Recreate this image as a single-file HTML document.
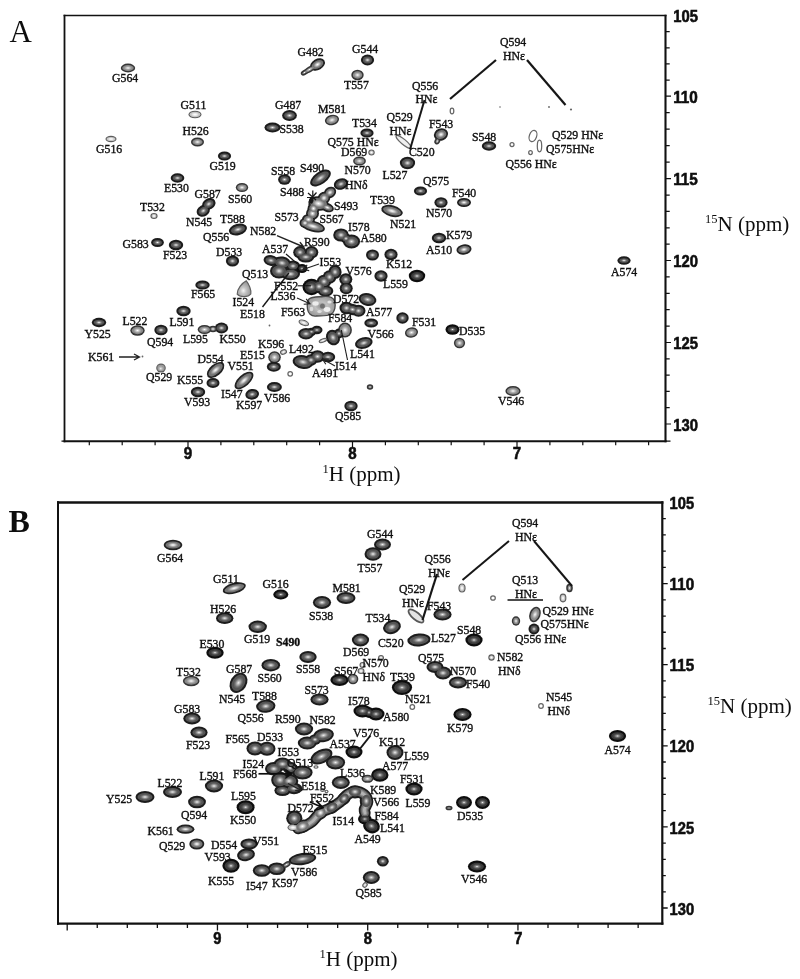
<!DOCTYPE html>
<html><head><meta charset="utf-8"><title>HSQC spectra</title>
<style>html,body{margin:0;padding:0;background:#fff}body{width:800px;height:979px;overflow:hidden;font-family:"Liberation Serif",serif}svg{display:block}</style>
</head><body>
<svg width="800" height="979" viewBox="0 0 800 979">
<defs>
<radialGradient id="gd"><stop offset="0" stop-color="#f0f0f0"/><stop offset="0.3" stop-color="#b4b4b4"/><stop offset="0.7" stop-color="#6e6e6e"/><stop offset="1" stop-color="#545454"/></radialGradient>
<radialGradient id="gh"><stop offset="0" stop-color="#ffffff"/><stop offset="0.35" stop-color="#d0d0d0"/><stop offset="0.75" stop-color="#8e8e8e"/><stop offset="1" stop-color="#747474"/></radialGradient>
<radialGradient id="gg" cx="0.45" cy="0.62" r="0.6"><stop offset="0" stop-color="#f4f4f4"/><stop offset="0.35" stop-color="#c4c4c4"/><stop offset="1" stop-color="#909090"/></radialGradient>
<radialGradient id="gD"><stop offset="0" stop-color="#f0f0f0"/><stop offset="0.3" stop-color="#8c8c8c"/><stop offset="0.7" stop-color="#505050"/><stop offset="1" stop-color="#3a3a3a"/></radialGradient>
<radialGradient id="gm"><stop offset="0" stop-color="#ffffff"/><stop offset="0.35" stop-color="#cecece"/><stop offset="0.75" stop-color="#a0a0a0"/><stop offset="1" stop-color="#8a8a8a"/></radialGradient>
<radialGradient id="gl"><stop offset="0" stop-color="#ffffff"/><stop offset="0.5" stop-color="#ececec"/><stop offset="1" stop-color="#c6c6c6"/></radialGradient>
<radialGradient id="gL" r="0.7"><stop offset="0" stop-color="#8c8c8c"/><stop offset="0.3" stop-color="#c0c0c0"/><stop offset="0.6" stop-color="#a6a6a6"/><stop offset="1" stop-color="#8c8c8c"/></radialGradient>
<filter id="bl" x="-5%" y="-5%" width="110%" height="110%"><feGaussianBlur stdDeviation="0.5"/></filter>
<filter id="bt" x="-5%" y="-5%" width="110%" height="110%"><feGaussianBlur stdDeviation="0.3"/></filter>
</defs>
<rect width="800" height="979" fill="#fff"/>
<path d="M63.6 15.5H666.55" fill="none" stroke="#111" stroke-width="1.4"/>
<path d="M64.5 14.8V442.2" fill="none" stroke="#111" stroke-width="1.8"/>
<path d="M665.5 14.8V442.2" fill="none" stroke="#111" stroke-width="2.1"/>
<path d="M63.6 441.2H666.55" fill="none" stroke="#111" stroke-width="2.0"/>
<path d="M57.0 502.5H663.4" fill="none" stroke="#111" stroke-width="2.4"/>
<path d="M58 501.3V924.75" fill="none" stroke="#111" stroke-width="2.0"/>
<path d="M662.3 501.3V924.75" fill="none" stroke="#111" stroke-width="2.2"/>
<path d="M57.0 923.6H663.4" fill="none" stroke="#111" stroke-width="2.3"/>
<path d="M665.5 31.64h4.2M665.5 47.78h4.2M665.5 63.92h4.2M665.5 80.06h4.2M665.5 96.20h5.5M665.5 112.70h4.2M665.5 129.20h4.2M665.5 145.70h4.2M665.5 162.20h4.2M665.5 178.70h5.5M665.5 195.06h4.2M665.5 211.42h4.2M665.5 227.78h4.2M665.5 244.14h4.2M665.5 260.50h5.5M665.5 276.90h4.2M665.5 293.30h4.2M665.5 309.70h4.2M665.5 326.10h4.2M665.5 342.50h5.5M665.5 358.80h4.2M665.5 375.10h4.2M665.5 391.40h4.2M665.5 407.70h4.2M665.5 424.00h5.5M89.30 441.2v4M122.20 441.2v4M155.10 441.2v4M188.00 441.2v6M220.90 441.2v4M253.80 441.2v4M286.70 441.2v4M319.60 441.2v4M352.50 441.2v6M385.40 441.2v4M418.30 441.2v4M451.20 441.2v4M484.10 441.2v4M517.00 441.2v6M549.90 441.2v4M582.80 441.2v4M615.70 441.2v4M648.60 441.2v4M64.5 441.2h-3M665.5 441.2h5" stroke="#111" stroke-width="1.2" fill="none"/>
<path d="M662.3 518.72h3.5M662.3 534.94h3.5M662.3 551.16h3.5M662.3 567.38h3.5M662.3 583.60h5.4M662.3 599.82h3.5M662.3 616.04h3.5M662.3 632.26h3.5M662.3 648.48h3.5M662.3 664.70h5.4M662.3 680.92h3.5M662.3 697.14h3.5M662.3 713.36h3.5M662.3 729.58h3.5M662.3 745.80h5.4M662.3 762.02h3.5M662.3 778.24h3.5M662.3 794.46h3.5M662.3 810.68h3.5M662.3 826.90h5.4M662.3 843.12h3.5M662.3 859.34h3.5M662.3 875.56h3.5M662.3 891.78h3.5M662.3 908.00h5.4M67.20 923.6v7M97.25 923.6v4.5M127.30 923.6v4.5M157.35 923.6v4.5M187.40 923.6v4.5M217.45 923.6v7M247.50 923.6v4.5M277.55 923.6v4.5M307.60 923.6v4.5M337.65 923.6v4.5M367.70 923.6v7M397.75 923.6v4.5M427.80 923.6v4.5M457.85 923.6v4.5M487.90 923.6v4.5M517.95 923.6v7M548.00 923.6v4.5M578.05 923.6v4.5M608.10 923.6v4.5M638.15 923.6v4.5" stroke="#111" stroke-width="1.3" fill="none"/>
<g font-family="Liberation Sans, sans-serif" font-weight="bold" fill="#0a0a0a" stroke="#0a0a0a" stroke-width="0.55" filter="url(#bt)">
<text x="673.2" y="22.1" font-size="16.7" textLength="24.7" lengthAdjust="spacingAndGlyphs">105</text>
<text x="673.2" y="102.8" font-size="16.7" textLength="24.7" lengthAdjust="spacingAndGlyphs">110</text>
<text x="673.2" y="185.3" font-size="16.7" textLength="24.7" lengthAdjust="spacingAndGlyphs">115</text>
<text x="673.2" y="267.1" font-size="16.7" textLength="24.7" lengthAdjust="spacingAndGlyphs">120</text>
<text x="673.2" y="349.1" font-size="16.7" textLength="24.7" lengthAdjust="spacingAndGlyphs">125</text>
<text x="673.2" y="430.6" font-size="16.7" textLength="24.7" lengthAdjust="spacingAndGlyphs">130</text>
<text x="183.8" y="459.2" font-size="16.8" textLength="8.4" lengthAdjust="spacingAndGlyphs">9</text>
<text x="348.3" y="459.2" font-size="16.8" textLength="8.4" lengthAdjust="spacingAndGlyphs">8</text>
<text x="512.8" y="459.2" font-size="16.8" textLength="8.4" lengthAdjust="spacingAndGlyphs">7</text>
<text x="669.6" y="509.1" font-size="16.7" textLength="24.5" lengthAdjust="spacingAndGlyphs">105</text>
<text x="669.6" y="590.2" font-size="16.7" textLength="24.5" lengthAdjust="spacingAndGlyphs">110</text>
<text x="669.6" y="671.3" font-size="16.7" textLength="24.5" lengthAdjust="spacingAndGlyphs">115</text>
<text x="669.6" y="752.4" font-size="16.7" textLength="24.5" lengthAdjust="spacingAndGlyphs">120</text>
<text x="669.6" y="833.5" font-size="16.7" textLength="24.5" lengthAdjust="spacingAndGlyphs">125</text>
<text x="669.6" y="914.6" font-size="16.7" textLength="24.5" lengthAdjust="spacingAndGlyphs">130</text>
<text x="213.3" y="944.2" font-size="17" textLength="8.2" lengthAdjust="spacingAndGlyphs">9</text>
<text x="363.8" y="944.2" font-size="17" textLength="8.2" lengthAdjust="spacingAndGlyphs">8</text>
<text x="514.3" y="944.2" font-size="17" textLength="8.2" lengthAdjust="spacingAndGlyphs">7</text>
</g>
<g font-family="Liberation Serif, serif" fill="#111" filter="url(#bt)">
<text x="9.5" y="41.5" font-size="31">A</text>
<text x="8.5" y="532" font-size="32" font-weight="bold">B</text>
<text x="322.5" y="480.5" font-size="21"><tspan font-size="12.5" dy="-8">1</tspan><tspan dy="8">H (ppm)</tspan></text>
<text x="319.5" y="966" font-size="21"><tspan font-size="12.5" dy="-8">1</tspan><tspan dy="8">H (ppm)</tspan></text>
<text x="705" y="231" font-size="21"><tspan font-size="12.5" dy="-8">15</tspan><tspan dy="8">N (ppm)</tspan></text>
<text x="707.5" y="712.5" font-size="21"><tspan font-size="12.5" dy="-8">15</tspan><tspan dy="8">N (ppm)</tspan></text>
</g>
<g filter="url(#bl)">
<ellipse cx="128" cy="68" rx="7.2" ry="4.4" fill="#363636"/>
<ellipse cx="317.5" cy="64.5" rx="8" ry="5.6" transform="rotate(-30 317.5 64.5)" fill="#202020"/>
<ellipse cx="309.5" cy="69.5" rx="6.5" ry="3" transform="rotate(-30 309.5 69.5)" fill="#363636"/>
<ellipse cx="304.5" cy="72.5" rx="4" ry="2.5" transform="rotate(-30 304.5 72.5)" fill="#363636"/>
<ellipse cx="367.5" cy="60" rx="6.6" ry="5.4" fill="#1c1c1c"/>
<ellipse cx="357.5" cy="75" rx="6.2" ry="5.2" fill="#363636"/>
<ellipse cx="195" cy="114.5" rx="6.5" ry="3.8" fill="#5c5c5c"/>
<ellipse cx="197.5" cy="142" rx="6.5" ry="4.5" fill="#363636"/>
<ellipse cx="111" cy="139" rx="5.5" ry="3.2" fill="#5c5c5c"/>
<ellipse cx="289.5" cy="115.5" rx="7.4" ry="5.4" fill="#1c1c1c"/>
<ellipse cx="272.5" cy="127.5" rx="8" ry="5" fill="#1c1c1c"/>
<ellipse cx="332" cy="120" rx="7.2" ry="5.2" transform="rotate(-15 332 120)" fill="#363636"/>
<ellipse cx="367" cy="133" rx="6.6" ry="4.6" fill="#1c1c1c"/>
<ellipse cx="371.5" cy="152.5" rx="3.2" ry="3" fill="#5c5c5c"/>
<ellipse cx="359.5" cy="161" rx="6.4" ry="4.6" fill="#363636"/>
<ellipse cx="341" cy="184" rx="7.4" ry="5.6" transform="rotate(-20 341 184)" fill="#1c1c1c"/>
<ellipse cx="224.5" cy="156" rx="6.6" ry="4.6" fill="#1c1c1c"/>
<ellipse cx="284.5" cy="179.5" rx="6.4" ry="5.2" fill="#1c1c1c"/>
<ellipse cx="320.5" cy="178" rx="11.8" ry="6.2" transform="rotate(-35 320.5 178)" fill="#1c1c1c"/>
<ellipse cx="242" cy="187.5" rx="6.2" ry="4.6" fill="#363636"/>
<ellipse cx="177.5" cy="178" rx="6.8" ry="4.7" fill="#1c1c1c"/>
<ellipse cx="208.8" cy="204" rx="7" ry="5.6" transform="rotate(-30 208.8 204)" fill="#1c1c1c"/>
<ellipse cx="203.3" cy="210.8" rx="7" ry="5.6" transform="rotate(-30 203.3 210.8)" fill="#1c1c1c"/>
<ellipse cx="238" cy="229.5" rx="9.2" ry="5.6" transform="rotate(-15 238 229.5)" fill="#1c1c1c"/>
<ellipse cx="330" cy="192.5" rx="6.5" ry="5.4" transform="rotate(-35 330 192.5)" fill="#202020"/>
<ellipse cx="324" cy="198" rx="6.5" ry="6" transform="rotate(-35 324 198)" fill="#202020"/>
<ellipse cx="318.5" cy="203.5" rx="10.3" ry="7.2" transform="rotate(10 318.5 203.5)" fill="#202020"/>
<ellipse cx="327.3" cy="207.5" rx="6.8" ry="4.4" transform="rotate(20 327.3 207.5)" fill="#202020"/>
<ellipse cx="312.5" cy="213.5" rx="6.5" ry="6.5" fill="#202020"/>
<ellipse cx="308.5" cy="219.5" rx="6.5" ry="5.5" fill="#202020"/>
<ellipse cx="312.8" cy="226.2" rx="12.4" ry="5.5" transform="rotate(15 312.8 226.2)" fill="#202020"/>
<ellipse cx="313.5" cy="208.5" rx="6" ry="6" fill="#202020"/>
<ellipse cx="305" cy="223" rx="5.5" ry="5" fill="#202020"/>
<ellipse cx="300" cy="252.3" rx="6.8" ry="6.2" fill="#1c1c1c"/>
<ellipse cx="311.5" cy="252.3" rx="6.8" ry="6.2" fill="#1c1c1c"/>
<ellipse cx="305.8" cy="257" rx="8.5" ry="5.5" fill="#1c1c1c"/>
<ellipse cx="271" cy="260.5" rx="7.5" ry="5.4" transform="rotate(10 271 260.5)" fill="#1c1c1c"/>
<ellipse cx="282" cy="263" rx="9" ry="6.5" transform="rotate(10 282 263)" fill="#1c1c1c"/>
<ellipse cx="279" cy="271" rx="9" ry="7.5" fill="#1c1c1c"/>
<ellipse cx="290.5" cy="274" rx="9.5" ry="6.2" fill="#1c1c1c"/>
<ellipse cx="293" cy="266" rx="7" ry="5.5" fill="#1c1c1c"/>
<ellipse cx="302" cy="268.5" rx="5.5" ry="4.6" fill="#0e0e0e"/>
<ellipse cx="232.5" cy="261" rx="6.6" ry="5.6" fill="#1c1c1c"/>
<ellipse cx="202.5" cy="285" rx="7.2" ry="4.6" fill="#1c1c1c"/>
<ellipse cx="183.5" cy="311" rx="7.2" ry="5.2" fill="#1c1c1c"/>
<ellipse cx="99" cy="322.5" rx="7.2" ry="4.7" fill="#1c1c1c"/>
<ellipse cx="137.5" cy="330.5" rx="7.2" ry="5.2" fill="#363636"/>
<ellipse cx="161" cy="330" rx="6.7" ry="5.2" fill="#1c1c1c"/>
<ellipse cx="161" cy="368" rx="4.8" ry="4.5" fill="#606060"/>
<ellipse cx="204.5" cy="329.5" rx="6.8" ry="4.6" fill="#363636"/>
<ellipse cx="221.5" cy="328" rx="6.7" ry="5.4" fill="#1c1c1c"/>
<ellipse cx="213" cy="329" rx="4" ry="3.2" fill="#363636"/>
<ellipse cx="157.5" cy="242.5" rx="6.4" ry="4.6" fill="#1c1c1c"/>
<ellipse cx="176" cy="245" rx="7.2" ry="5.2" fill="#1c1c1c"/>
<ellipse cx="154" cy="216" rx="3.6" ry="3" fill="#5c5c5c"/>
<ellipse cx="392" cy="211" rx="11" ry="5.6" transform="rotate(15 392 211)" fill="#202020"/>
<ellipse cx="420.5" cy="191" rx="6.6" ry="4.6" fill="#1c1c1c"/>
<ellipse cx="441" cy="202.5" rx="6.6" ry="5.2" fill="#1c1c1c"/>
<ellipse cx="464" cy="202.5" rx="7" ry="4.6" fill="#202020"/>
<ellipse cx="407.5" cy="163" rx="7.6" ry="6.2" fill="#1c1c1c"/>
<ellipse cx="439" cy="238" rx="7.2" ry="5.2" fill="#1c1c1c"/>
<ellipse cx="464" cy="249.5" rx="7.6" ry="5.2" transform="rotate(-10 464 249.5)" fill="#202020"/>
<ellipse cx="341" cy="235" rx="7.8" ry="6.6" fill="#1c1c1c"/>
<ellipse cx="351.5" cy="241.5" rx="8.6" ry="7" fill="#1c1c1c"/>
<ellipse cx="346" cy="238.5" rx="5.5" ry="5" fill="#1c1c1c"/>
<ellipse cx="372.5" cy="255" rx="6.5" ry="5.6" fill="#1c1c1c"/>
<ellipse cx="391" cy="254.5" rx="6.6" ry="5.7" fill="#1c1c1c"/>
<ellipse cx="381" cy="276" rx="6.6" ry="5.7" fill="#1c1c1c"/>
<ellipse cx="417" cy="276" rx="8.2" ry="6.2" fill="#0e0e0e"/>
<ellipse cx="345.8" cy="279.3" rx="6.5" ry="6" fill="#1c1c1c"/>
<ellipse cx="346.2" cy="288.3" rx="6.5" ry="6" fill="#1c1c1c"/>
<ellipse cx="335" cy="272" rx="6.6" ry="7" fill="#1c1c1c"/>
<ellipse cx="329.5" cy="277" rx="6.8" ry="6.8" fill="#1c1c1c"/>
<ellipse cx="324" cy="281.5" rx="7.2" ry="6.8" fill="#1c1c1c"/>
<ellipse cx="311.5" cy="287" rx="9" ry="8.2" fill="#0e0e0e"/>
<ellipse cx="325.5" cy="291" rx="7.8" ry="5.8" fill="#1c1c1c"/>
<ellipse cx="319" cy="286.5" rx="7" ry="6.5" fill="#1c1c1c"/>
<ellipse cx="367.5" cy="299.5" rx="9" ry="6.3" transform="rotate(12 367.5 299.5)" fill="#1c1c1c"/>
<ellipse cx="346.5" cy="308" rx="7" ry="6.3" fill="#1c1c1c"/>
<ellipse cx="358.5" cy="310.8" rx="7" ry="6" fill="#1c1c1c"/>
<ellipse cx="352.5" cy="309.5" rx="7" ry="5.6" transform="rotate(10 352.5 309.5)" fill="#1c1c1c"/>
<ellipse cx="371.2" cy="323" rx="6.9" ry="4.5" fill="#1c1c1c"/>
<ellipse cx="402.5" cy="318" rx="6.2" ry="5.7" fill="#1c1c1c"/>
<ellipse cx="411.5" cy="332.5" rx="6.6" ry="5.2" transform="rotate(-10 411.5 332.5)" fill="#363636"/>
<ellipse cx="452.5" cy="329.5" rx="7" ry="5.2" fill="#0e0e0e"/>
<ellipse cx="459.5" cy="343" rx="5.6" ry="5.2" fill="#363636"/>
<ellipse cx="363.8" cy="343" rx="9" ry="5.8" transform="rotate(-15 363.8 343)" fill="#1c1c1c"/>
<ellipse cx="345" cy="330" rx="6.9" ry="7.5" fill="#363636"/>
<ellipse cx="333" cy="337.5" rx="6.9" ry="8" transform="rotate(-25 333 337.5)" fill="#1c1c1c"/>
<ellipse cx="339" cy="333.5" rx="5" ry="5" fill="#1c1c1c"/>
<ellipse cx="323" cy="340.5" rx="4.5" ry="2.2" transform="rotate(-20 323 340.5)" fill="#5c5c5c"/>
<ellipse cx="306" cy="333.8" rx="7.8" ry="5.7" fill="#1c1c1c"/>
<ellipse cx="316.9" cy="330" rx="5.6" ry="4.2" fill="#1c1c1c"/>
<ellipse cx="311.5" cy="331.8" rx="5" ry="4" fill="#1c1c1c"/>
<ellipse cx="303.8" cy="322.8" rx="5.5" ry="3" transform="rotate(20 303.8 322.8)" fill="#5c5c5c"/>
<ellipse cx="274.5" cy="357.3" rx="6.3" ry="6" fill="#363636"/>
<ellipse cx="283.5" cy="352" rx="3.6" ry="2.7" transform="rotate(-20 283.5 352)" fill="#5c5c5c"/>
<ellipse cx="273.8" cy="366.8" rx="7" ry="5" fill="#1c1c1c"/>
<ellipse cx="215.6" cy="370" rx="10.4" ry="5.8" transform="rotate(-40 215.6 370)" fill="#202020"/>
<ellipse cx="213" cy="383" rx="6.5" ry="5" fill="#1c1c1c"/>
<ellipse cx="198" cy="392" rx="7.2" ry="5.2" fill="#1c1c1c"/>
<ellipse cx="244" cy="380.5" rx="11.5" ry="5.8" transform="rotate(-42 244 380.5)" fill="#202020"/>
<ellipse cx="252.2" cy="394.3" rx="6.9" ry="5.3" transform="rotate(-10 252.2 394.3)" fill="#1c1c1c"/>
<ellipse cx="274.4" cy="387" rx="7.5" ry="5.1" fill="#1c1c1c"/>
<ellipse cx="290.2" cy="373.8" rx="2.3" ry="2.3" fill="#fff" stroke="#666" stroke-width="1.25"/>
<ellipse cx="303" cy="362" rx="10.5" ry="6.8" transform="rotate(10 303 362)" fill="#1c1c1c"/>
<ellipse cx="317.5" cy="356.5" rx="7.2" ry="6.2" fill="#1c1c1c"/>
<ellipse cx="328" cy="357" rx="7.2" ry="5.2" fill="#1c1c1c"/>
<ellipse cx="311" cy="360" rx="6.5" ry="5.8" fill="#1c1c1c"/>
<ellipse cx="351" cy="406" rx="6.7" ry="5.2" fill="#1c1c1c"/>
<ellipse cx="370" cy="387" rx="3.2" ry="2.8" fill="#363636"/>
<ellipse cx="513" cy="391" rx="7.6" ry="5.1" fill="#363636"/>
<ellipse cx="624" cy="260.5" rx="6.6" ry="4.3" fill="#1c1c1c"/>
<ellipse cx="441" cy="134.5" rx="7.2" ry="6.1" transform="rotate(-20 441 134.5)" fill="#202020"/>
<ellipse cx="437.3" cy="141.2" rx="2.8" ry="3.4" transform="rotate(30 437.3 141.2)" fill="#363636"/>
<ellipse cx="489" cy="146" rx="7.2" ry="4.7" fill="#1c1c1c"/>
<ellipse cx="403.5" cy="141.8" rx="9.5" ry="2.5" transform="rotate(40 403.5 141.8)" fill="#f0f0f0" stroke="#686868" stroke-width="1.2"/>
<ellipse cx="452" cy="111" rx="1.8" ry="2.8" fill="#fff" stroke="#666" stroke-width="1.25"/>
<ellipse cx="512" cy="144.5" rx="2" ry="2" fill="#fff" stroke="#666" stroke-width="1.25"/>
<ellipse cx="533" cy="136" rx="3.6" ry="5.8" transform="rotate(20 533 136)" fill="#fff" stroke="#666" stroke-width="1.25"/>
<ellipse cx="539.5" cy="146" rx="2.2" ry="5.8" fill="#fff" stroke="#666" stroke-width="1.25"/>
<ellipse cx="530.5" cy="152.5" rx="1.8" ry="2" fill="#fff" stroke="#666" stroke-width="1.25"/>
<ellipse cx="173" cy="545" rx="9.3" ry="5.3" fill="#202020"/>
<ellipse cx="234.3" cy="588.2" rx="11.9" ry="5.3" transform="rotate(-15 234.3 588.2)" fill="#202020"/>
<ellipse cx="280.8" cy="594.5" rx="7.5" ry="5.1" fill="#0e0e0e"/>
<ellipse cx="224.7" cy="618.2" rx="8.7" ry="5.9" fill="#1c1c1c"/>
<ellipse cx="257.7" cy="626.8" rx="9.2" ry="6.2" fill="#1c1c1c"/>
<ellipse cx="322" cy="602.5" rx="9.1" ry="6.4" fill="#1c1c1c"/>
<ellipse cx="346" cy="598" rx="9.5" ry="5.9" fill="#1c1c1c"/>
<ellipse cx="215" cy="652.7" rx="8.7" ry="6" fill="#0e0e0e"/>
<ellipse cx="308" cy="657" rx="8.7" ry="6" fill="#1c1c1c"/>
<ellipse cx="270.8" cy="665.2" rx="9.3" ry="6.2" fill="#1c1c1c"/>
<ellipse cx="191.2" cy="681" rx="8.3" ry="5.2" fill="#363636"/>
<ellipse cx="238.5" cy="682.8" rx="10.8" ry="8.2" transform="rotate(-58 238.5 682.8)" fill="#1c1c1c"/>
<ellipse cx="339.5" cy="680" rx="9.1" ry="6" fill="#0e0e0e"/>
<ellipse cx="353" cy="679" rx="5.3" ry="5.2" fill="#363636"/>
<ellipse cx="319.5" cy="699.5" rx="9.1" ry="6" fill="#1c1c1c"/>
<ellipse cx="382.5" cy="544.5" rx="8.5" ry="5.9" fill="#1c1c1c"/>
<ellipse cx="373" cy="554" rx="8.5" ry="6.8" fill="#1c1c1c"/>
<ellipse cx="462" cy="588" rx="3.6" ry="4.5" fill="#5c5c5c"/>
<ellipse cx="493" cy="598" rx="2.3" ry="2.2" fill="#fff" stroke="#666" stroke-width="1.25"/>
<ellipse cx="416" cy="616" rx="9.3" ry="3.6" transform="rotate(40 416 616)" fill="#e4e4e4" stroke="#585858" stroke-width="1.7"/>
<ellipse cx="442.5" cy="614.5" rx="9.1" ry="6" fill="#1c1c1c"/>
<ellipse cx="392" cy="627" rx="9.1" ry="6.8" transform="rotate(-20 392 627)" fill="#1c1c1c"/>
<ellipse cx="360.5" cy="640" rx="8.6" ry="6.4" fill="#1c1c1c"/>
<ellipse cx="419" cy="640" rx="11.6" ry="6.4" transform="rotate(-5 419 640)" fill="#1c1c1c"/>
<ellipse cx="474" cy="640" rx="8.6" ry="6.4" fill="#0e0e0e"/>
<ellipse cx="381" cy="658" rx="3" ry="3" fill="#5c5c5c"/>
<ellipse cx="362.5" cy="665" rx="3" ry="3" fill="#5c5c5c"/>
<ellipse cx="361" cy="671" rx="3.5" ry="3" fill="#5c5c5c"/>
<ellipse cx="435" cy="667" rx="8.5" ry="5.9" fill="#1c1c1c"/>
<ellipse cx="443" cy="673" rx="8.5" ry="6.4" fill="#1c1c1c"/>
<ellipse cx="458" cy="682.5" rx="9.1" ry="5.9" fill="#1c1c1c"/>
<ellipse cx="402" cy="687.5" rx="10.1" ry="7.4" fill="#0e0e0e"/>
<ellipse cx="491.5" cy="657.5" rx="3.2" ry="3.2" fill="#5c5c5c"/>
<ellipse cx="569.5" cy="588" rx="3.3" ry="4.2" fill="#363636"/>
<ellipse cx="563" cy="598" rx="3.4" ry="4.4" fill="#5c5c5c"/>
<ellipse cx="535" cy="614.5" rx="5.5" ry="8" transform="rotate(20 535 614.5)" fill="#363636"/>
<ellipse cx="534" cy="629" rx="5.5" ry="5.4" fill="#1c1c1c"/>
<ellipse cx="516" cy="621" rx="4.2" ry="4.7" fill="#363636"/>
<ellipse cx="192" cy="718.5" rx="8.7" ry="5.9" fill="#1c1c1c"/>
<ellipse cx="199" cy="732.5" rx="8.6" ry="5.9" fill="#1c1c1c"/>
<ellipse cx="172.5" cy="792" rx="9.5" ry="5.9" fill="#1c1c1c"/>
<ellipse cx="145" cy="797" rx="9.5" ry="5.9" fill="#1c1c1c"/>
<ellipse cx="197" cy="802" rx="8.9" ry="6.3" fill="#1c1c1c"/>
<ellipse cx="185.5" cy="829.2" rx="8.9" ry="4.6" fill="#202020"/>
<ellipse cx="196.8" cy="844" rx="7.5" ry="5.5" fill="#202020"/>
<ellipse cx="265.8" cy="706.2" rx="9.7" ry="6.6" transform="rotate(-5 265.8 706.2)" fill="#1c1c1c"/>
<ellipse cx="304" cy="729" rx="9.1" ry="6.4" fill="#1c1c1c"/>
<ellipse cx="323.5" cy="735.3" rx="10.5" ry="6.9" transform="rotate(-10 323.5 735.3)" fill="#1c1c1c"/>
<ellipse cx="307.3" cy="743" rx="9.5" ry="6.5" fill="#1c1c1c"/>
<ellipse cx="315" cy="739.5" rx="6.3" ry="5.2" fill="#1c1c1c"/>
<ellipse cx="321.5" cy="756.5" rx="11.6" ry="6.9" transform="rotate(-25 321.5 756.5)" fill="#1c1c1c"/>
<ellipse cx="335.5" cy="762.5" rx="9.6" ry="6.9" fill="#1c1c1c"/>
<ellipse cx="255" cy="748.5" rx="8.5" ry="7" fill="#1c1c1c"/>
<ellipse cx="267" cy="748.7" rx="8.5" ry="7" fill="#1c1c1c"/>
<ellipse cx="273.8" cy="768.8" rx="8.8" ry="6.7" fill="#1c1c1c"/>
<ellipse cx="282.5" cy="764" rx="8.8" ry="6.4" fill="#1c1c1c"/>
<ellipse cx="290" cy="768" rx="7.3" ry="6.2" fill="#1c1c1c"/>
<ellipse cx="302.5" cy="772.5" rx="10.1" ry="6.9" fill="#1c1c1c"/>
<ellipse cx="280" cy="780" rx="8.8" ry="8.2" fill="#1c1c1c"/>
<ellipse cx="289" cy="781" rx="9.3" ry="7.2" fill="#1c1c1c"/>
<ellipse cx="282.5" cy="790.5" rx="8.1" ry="5.6" fill="#1c1c1c"/>
<ellipse cx="294" cy="788.5" rx="8.3" ry="5.7" fill="#1c1c1c"/>
<ellipse cx="214" cy="786" rx="9.1" ry="6.4" fill="#1c1c1c"/>
<ellipse cx="245.6" cy="807.2" rx="9" ry="7" fill="#0e0e0e"/>
<ellipse cx="249" cy="844" rx="8.6" ry="5.6" fill="#1c1c1c"/>
<ellipse cx="246" cy="854.8" rx="9" ry="6.3" transform="rotate(-10 246 854.8)" fill="#1c1c1c"/>
<ellipse cx="231" cy="865.8" rx="8.6" ry="7" fill="#0e0e0e"/>
<ellipse cx="302.5" cy="859" rx="13.8" ry="6" transform="rotate(-8 302.5 859)" fill="#1c1c1c"/>
<ellipse cx="261.8" cy="870.5" rx="9" ry="6.3" fill="#1c1c1c"/>
<ellipse cx="276.8" cy="868.8" rx="8.9" ry="6.3" fill="#1c1c1c"/>
<ellipse cx="286.5" cy="864.6" rx="4.5" ry="2.8" transform="rotate(-30 286.5 864.6)" fill="#363636"/>
<ellipse cx="362.5" cy="711" rx="9" ry="6.4" fill="#0e0e0e"/>
<ellipse cx="376" cy="714" rx="8.5" ry="6.4" fill="#0e0e0e"/>
<ellipse cx="369" cy="712.5" rx="5.3" ry="5.4" fill="#0e0e0e"/>
<ellipse cx="412.3" cy="707" rx="2.3" ry="2.3" fill="#fff" stroke="#666" stroke-width="1.25"/>
<ellipse cx="462.5" cy="714.5" rx="9.1" ry="6.4" fill="#0e0e0e"/>
<ellipse cx="354" cy="752" rx="8.5" ry="6.4" fill="#0e0e0e"/>
<ellipse cx="395" cy="752.5" rx="8.5" ry="7.4" fill="#1c1c1c"/>
<ellipse cx="379.8" cy="775" rx="8.7" ry="6.8" fill="#0e0e0e"/>
<ellipse cx="367.5" cy="778.8" rx="5.9" ry="4" fill="#363636"/>
<ellipse cx="340.8" cy="782.5" rx="9" ry="6.4" fill="#1c1c1c"/>
<ellipse cx="414" cy="789" rx="8.6" ry="6.4" fill="#0e0e0e"/>
<ellipse cx="294.3" cy="818.3" rx="8.1" ry="7.8" fill="#1c1c1c"/>
<ellipse cx="293" cy="827.5" rx="5.5" ry="3.5" fill="#5c5c5c"/>
<ellipse cx="364.8" cy="819" rx="6.8" ry="5.4" fill="#0e0e0e"/>
<ellipse cx="371.5" cy="826" rx="8.5" ry="7.2" transform="rotate(20 371.5 826)" fill="#0e0e0e"/>
<ellipse cx="464" cy="802.5" rx="8" ry="6.4" fill="#0e0e0e"/>
<ellipse cx="482.5" cy="802.5" rx="7.5" ry="6.4" fill="#0e0e0e"/>
<ellipse cx="449" cy="808" rx="3.5" ry="2.3" fill="#363636"/>
<ellipse cx="382.8" cy="861.2" rx="5.9" ry="5.3" fill="#1c1c1c"/>
<ellipse cx="371.3" cy="877.5" rx="8.5" ry="6.4" fill="#1c1c1c"/>
<ellipse cx="365" cy="885" rx="2.5" ry="3" transform="rotate(40 365 885)" fill="#5c5c5c"/>
<ellipse cx="477" cy="866.6" rx="9.1" ry="6" fill="#0e0e0e"/>
<ellipse cx="617.5" cy="736" rx="8.6" ry="6" fill="#0e0e0e"/>
<ellipse cx="541" cy="706" rx="2.3" ry="2.3" fill="#fff" stroke="#666" stroke-width="1.25"/>
<ellipse cx="302.5" cy="826.3" rx="8.3" ry="6.6" transform="rotate(-20 302.5 826.3)" fill="#202020"/>
<ellipse cx="320.5" cy="812.8" rx="7.3" ry="6.6" transform="rotate(-40 320.5 812.8)" fill="#202020"/>
<ellipse cx="332" cy="807.3" rx="7.8" ry="6.2" transform="rotate(-30 332 807.3)" fill="#1c1c1c"/>
<ellipse cx="355" cy="791.8" rx="8.3" ry="6.6" fill="#1c1c1c"/>
<ellipse cx="366.3" cy="801" rx="6.6" ry="8.2" fill="#1c1c1c"/>
<ellipse cx="344" cy="798.5" rx="7.3" ry="6.2" transform="rotate(-40 344 798.5)" fill="#1c1c1c"/>
<ellipse cx="316" cy="767" rx="2.6" ry="1.8" fill="#5c5c5c"/>
<ellipse cx="322.5" cy="790" rx="2.4" ry="2" fill="#5c5c5c"/>
<ellipse cx="326.5" cy="791.5" rx="2" ry="1.8" fill="#5c5c5c"/>
<path d="M298 828.5C299.0 828.2 301.6 827.7 304 826.5C306.4 825.3 309.6 823.8 312.3 821.5C315.1 819.2 317.4 814.8 320.5 812.5C323.6 810.2 327.8 809.8 331 808C334.2 806.2 337.2 804.2 340 802C342.8 799.8 345.0 796.2 347.5 794.5C350.0 792.8 352.2 791.5 355 791.5C357.8 791.5 361.9 792.8 364 794.5C366.1 796.2 367.6 799.6 367.7 802C367.8 804.4 364.9 807.2 364.5 809C364.1 810.8 364.9 812.3 365 813" fill="none" stroke="#1e1e1e" stroke-width="11.3" stroke-linecap="round" stroke-linejoin="round"/>
<path d="M298 828.5C299.0 828.2 301.6 827.7 304 826.5C306.4 825.3 309.6 823.8 312.3 821.5C315.1 819.2 317.4 814.8 320.5 812.5C323.6 810.2 327.8 809.8 331 808C334.2 806.2 337.2 804.2 340 802C342.8 799.8 345.0 796.2 347.5 794.5C350.0 792.8 352.2 791.5 355 791.5C357.8 791.5 361.9 792.8 364 794.5C366.1 796.2 367.6 799.6 367.7 802C367.8 804.4 364.9 807.2 364.5 809C364.1 810.8 364.9 812.3 365 813" fill="none" stroke="#646464" stroke-width="7.9" stroke-linecap="round" stroke-linejoin="round"/>
<path d="M298 828.5C299.0 828.2 301.6 827.7 304 826.5C306.4 825.3 309.6 823.8 312.3 821.5C315.1 819.2 317.4 814.8 320.5 812.5C323.6 810.2 327.8 809.8 331 808C334.2 806.2 337.2 804.2 340 802C342.8 799.8 345.0 796.2 347.5 794.5C350.0 792.8 352.2 791.5 355 791.5C357.8 791.5 361.9 792.8 364 794.5C366.1 796.2 367.6 799.6 367.7 802C367.8 804.4 364.9 807.2 364.5 809C364.1 810.8 364.9 812.3 365 813" fill="none" stroke="#8c8c8c" stroke-width="5.300000000000001" stroke-linecap="round" stroke-linejoin="round"/>
<path d="M298 828.5C299.0 828.2 301.6 827.7 304 826.5C306.4 825.3 309.6 823.8 312.3 821.5C315.1 819.2 317.4 814.8 320.5 812.5C323.6 810.2 327.8 809.8 331 808C334.2 806.2 337.2 804.2 340 802C342.8 799.8 345.0 796.2 347.5 794.5C350.0 792.8 352.2 791.5 355 791.5C357.8 791.5 361.9 792.8 364 794.5C366.1 796.2 367.6 799.6 367.7 802C367.8 804.4 364.9 807.2 364.5 809C364.1 810.8 364.9 812.3 365 813" fill="none" stroke="#b4b4b4" stroke-width="2.8000000000000007" stroke-linecap="round" stroke-linejoin="round"/>
<ellipse cx="128" cy="68" rx="5.70" ry="2.90" fill="#8a8a8a"/>
<ellipse cx="317.5" cy="64.5" rx="6.25" ry="3.85" transform="rotate(-30 317.5 64.5)" fill="#747474"/>
<ellipse cx="309.5" cy="69.5" rx="5.00" ry="1.50" transform="rotate(-30 309.5 69.5)" fill="#8a8a8a"/>
<ellipse cx="304.5" cy="72.5" rx="2.50" ry="1.00" transform="rotate(-30 304.5 72.5)" fill="#8a8a8a"/>
<ellipse cx="367.5" cy="60" rx="4.60" ry="3.40" fill="#545454"/>
<ellipse cx="357.5" cy="75" rx="4.70" ry="3.70" fill="#8a8a8a"/>
<ellipse cx="195" cy="114.5" rx="5.40" ry="2.70" fill="#c6c6c6"/>
<ellipse cx="197.5" cy="142" rx="5.00" ry="3.00" fill="#8a8a8a"/>
<ellipse cx="111" cy="139" rx="4.40" ry="2.10" fill="#c6c6c6"/>
<ellipse cx="289.5" cy="115.5" rx="5.40" ry="3.40" fill="#545454"/>
<ellipse cx="272.5" cy="127.5" rx="6.00" ry="3.00" fill="#545454"/>
<ellipse cx="332" cy="120" rx="5.70" ry="3.70" transform="rotate(-15 332 120)" fill="#8a8a8a"/>
<ellipse cx="367" cy="133" rx="4.60" ry="2.60" fill="#545454"/>
<ellipse cx="371.5" cy="152.5" rx="2.10" ry="1.90" fill="#c6c6c6"/>
<ellipse cx="359.5" cy="161" rx="4.90" ry="3.10" fill="#8a8a8a"/>
<ellipse cx="341" cy="184" rx="5.40" ry="3.60" transform="rotate(-20 341 184)" fill="#545454"/>
<ellipse cx="224.5" cy="156" rx="4.60" ry="2.60" fill="#545454"/>
<ellipse cx="284.5" cy="179.5" rx="4.40" ry="3.20" fill="#545454"/>
<ellipse cx="320.5" cy="178" rx="9.80" ry="4.20" transform="rotate(-35 320.5 178)" fill="#545454"/>
<ellipse cx="242" cy="187.5" rx="4.70" ry="3.10" fill="#8a8a8a"/>
<ellipse cx="177.5" cy="178" rx="4.80" ry="2.70" fill="#545454"/>
<ellipse cx="208.8" cy="204" rx="5.00" ry="3.60" transform="rotate(-30 208.8 204)" fill="#545454"/>
<ellipse cx="203.3" cy="210.8" rx="5.00" ry="3.60" transform="rotate(-30 203.3 210.8)" fill="#545454"/>
<ellipse cx="238" cy="229.5" rx="7.20" ry="3.60" transform="rotate(-15 238 229.5)" fill="#545454"/>
<ellipse cx="330" cy="192.5" rx="4.75" ry="3.65" transform="rotate(-35 330 192.5)" fill="#747474"/>
<ellipse cx="324" cy="198" rx="4.75" ry="4.25" transform="rotate(-35 324 198)" fill="#747474"/>
<ellipse cx="318.5" cy="203.5" rx="8.55" ry="5.45" transform="rotate(10 318.5 203.5)" fill="#747474"/>
<ellipse cx="327.3" cy="207.5" rx="5.05" ry="2.65" transform="rotate(20 327.3 207.5)" fill="#747474"/>
<ellipse cx="312.5" cy="213.5" rx="4.75" ry="4.75" fill="#747474"/>
<ellipse cx="308.5" cy="219.5" rx="4.75" ry="3.75" fill="#747474"/>
<ellipse cx="312.8" cy="226.2" rx="10.65" ry="3.75" transform="rotate(15 312.8 226.2)" fill="#747474"/>
<ellipse cx="313.5" cy="208.5" rx="4.25" ry="4.25" fill="#747474"/>
<ellipse cx="305" cy="223" rx="3.75" ry="3.25" fill="#747474"/>
<ellipse cx="300" cy="252.3" rx="4.80" ry="4.20" fill="#545454"/>
<ellipse cx="311.5" cy="252.3" rx="4.80" ry="4.20" fill="#545454"/>
<ellipse cx="305.8" cy="257" rx="6.50" ry="3.50" fill="#545454"/>
<ellipse cx="271" cy="260.5" rx="5.50" ry="3.40" transform="rotate(10 271 260.5)" fill="#545454"/>
<ellipse cx="282" cy="263" rx="7.00" ry="4.50" transform="rotate(10 282 263)" fill="#545454"/>
<ellipse cx="279" cy="271" rx="7.00" ry="5.50" fill="#545454"/>
<ellipse cx="290.5" cy="274" rx="7.50" ry="4.20" fill="#545454"/>
<ellipse cx="293" cy="266" rx="5.00" ry="3.50" fill="#545454"/>
<ellipse cx="302" cy="268.5" rx="3.30" ry="2.40" fill="#3a3a3a"/>
<ellipse cx="232.5" cy="261" rx="4.60" ry="3.60" fill="#545454"/>
<ellipse cx="202.5" cy="285" rx="5.20" ry="2.60" fill="#545454"/>
<ellipse cx="183.5" cy="311" rx="5.20" ry="3.20" fill="#545454"/>
<ellipse cx="99" cy="322.5" rx="5.20" ry="2.70" fill="#545454"/>
<ellipse cx="137.5" cy="330.5" rx="5.70" ry="3.70" fill="#8a8a8a"/>
<ellipse cx="161" cy="330" rx="4.70" ry="3.20" fill="#545454"/>
<ellipse cx="161" cy="368" rx="3.60" ry="3.30" fill="#a0a0a0"/>
<ellipse cx="204.5" cy="329.5" rx="5.30" ry="3.10" fill="#8a8a8a"/>
<ellipse cx="221.5" cy="328" rx="4.70" ry="3.40" fill="#545454"/>
<ellipse cx="213" cy="329" rx="2.50" ry="1.70" fill="#8a8a8a"/>
<ellipse cx="157.5" cy="242.5" rx="4.40" ry="2.60" fill="#545454"/>
<ellipse cx="176" cy="245" rx="5.20" ry="3.20" fill="#545454"/>
<ellipse cx="154" cy="216" rx="2.50" ry="1.90" fill="#c6c6c6"/>
<ellipse cx="392" cy="211" rx="9.25" ry="3.85" transform="rotate(15 392 211)" fill="#747474"/>
<ellipse cx="420.5" cy="191" rx="4.60" ry="2.60" fill="#545454"/>
<ellipse cx="441" cy="202.5" rx="4.60" ry="3.20" fill="#545454"/>
<ellipse cx="464" cy="202.5" rx="5.25" ry="2.85" fill="#747474"/>
<ellipse cx="407.5" cy="163" rx="5.60" ry="4.20" fill="#545454"/>
<ellipse cx="439" cy="238" rx="5.20" ry="3.20" fill="#545454"/>
<ellipse cx="464" cy="249.5" rx="5.85" ry="3.45" transform="rotate(-10 464 249.5)" fill="#747474"/>
<ellipse cx="341" cy="235" rx="5.80" ry="4.60" fill="#545454"/>
<ellipse cx="351.5" cy="241.5" rx="6.60" ry="5.00" fill="#545454"/>
<ellipse cx="346" cy="238.5" rx="3.50" ry="3.00" fill="#545454"/>
<ellipse cx="372.5" cy="255" rx="4.50" ry="3.60" fill="#545454"/>
<ellipse cx="391" cy="254.5" rx="4.60" ry="3.70" fill="#545454"/>
<ellipse cx="381" cy="276" rx="4.60" ry="3.70" fill="#545454"/>
<ellipse cx="417" cy="276" rx="6.00" ry="4.00" fill="#3a3a3a"/>
<ellipse cx="345.8" cy="279.3" rx="4.50" ry="4.00" fill="#545454"/>
<ellipse cx="346.2" cy="288.3" rx="4.50" ry="4.00" fill="#545454"/>
<ellipse cx="335" cy="272" rx="4.60" ry="5.00" fill="#545454"/>
<ellipse cx="329.5" cy="277" rx="4.80" ry="4.80" fill="#545454"/>
<ellipse cx="324" cy="281.5" rx="5.20" ry="4.80" fill="#545454"/>
<ellipse cx="311.5" cy="287" rx="6.80" ry="6.00" fill="#3a3a3a"/>
<ellipse cx="325.5" cy="291" rx="5.80" ry="3.80" fill="#545454"/>
<ellipse cx="319" cy="286.5" rx="5.00" ry="4.50" fill="#545454"/>
<ellipse cx="367.5" cy="299.5" rx="7.00" ry="4.30" transform="rotate(12 367.5 299.5)" fill="#545454"/>
<ellipse cx="346.5" cy="308" rx="5.00" ry="4.30" fill="#545454"/>
<ellipse cx="358.5" cy="310.8" rx="5.00" ry="4.00" fill="#545454"/>
<ellipse cx="352.5" cy="309.5" rx="5.00" ry="3.60" transform="rotate(10 352.5 309.5)" fill="#545454"/>
<ellipse cx="371.2" cy="323" rx="4.90" ry="2.50" fill="#545454"/>
<ellipse cx="402.5" cy="318" rx="4.20" ry="3.70" fill="#545454"/>
<ellipse cx="411.5" cy="332.5" rx="5.10" ry="3.70" transform="rotate(-10 411.5 332.5)" fill="#8a8a8a"/>
<ellipse cx="452.5" cy="329.5" rx="4.80" ry="3.00" fill="#3a3a3a"/>
<ellipse cx="459.5" cy="343" rx="4.10" ry="3.70" fill="#8a8a8a"/>
<ellipse cx="363.8" cy="343" rx="7.00" ry="3.80" transform="rotate(-15 363.8 343)" fill="#545454"/>
<ellipse cx="345" cy="330" rx="5.40" ry="6.00" fill="#8a8a8a"/>
<ellipse cx="333" cy="337.5" rx="4.90" ry="6.00" transform="rotate(-25 333 337.5)" fill="#545454"/>
<ellipse cx="339" cy="333.5" rx="3.00" ry="3.00" fill="#545454"/>
<ellipse cx="323" cy="340.5" rx="3.40" ry="1.10" transform="rotate(-20 323 340.5)" fill="#c6c6c6"/>
<ellipse cx="306" cy="333.8" rx="5.80" ry="3.70" fill="#545454"/>
<ellipse cx="316.9" cy="330" rx="3.60" ry="2.20" fill="#545454"/>
<ellipse cx="311.5" cy="331.8" rx="3.00" ry="2.00" fill="#545454"/>
<ellipse cx="303.8" cy="322.8" rx="4.40" ry="1.90" transform="rotate(20 303.8 322.8)" fill="#c6c6c6"/>
<ellipse cx="274.5" cy="357.3" rx="4.80" ry="4.50" fill="#8a8a8a"/>
<ellipse cx="283.5" cy="352" rx="2.50" ry="1.60" transform="rotate(-20 283.5 352)" fill="#c6c6c6"/>
<ellipse cx="273.8" cy="366.8" rx="5.00" ry="3.00" fill="#545454"/>
<ellipse cx="215.6" cy="370" rx="8.65" ry="4.05" transform="rotate(-40 215.6 370)" fill="#747474"/>
<ellipse cx="213" cy="383" rx="4.50" ry="3.00" fill="#545454"/>
<ellipse cx="198" cy="392" rx="5.20" ry="3.20" fill="#545454"/>
<ellipse cx="244" cy="380.5" rx="9.75" ry="4.05" transform="rotate(-42 244 380.5)" fill="#747474"/>
<ellipse cx="252.2" cy="394.3" rx="4.90" ry="3.30" transform="rotate(-10 252.2 394.3)" fill="#545454"/>
<ellipse cx="274.4" cy="387" rx="5.50" ry="3.10" fill="#545454"/>

<ellipse cx="303" cy="362" rx="8.50" ry="4.80" transform="rotate(10 303 362)" fill="#545454"/>
<ellipse cx="317.5" cy="356.5" rx="5.20" ry="4.20" fill="#545454"/>
<ellipse cx="328" cy="357" rx="5.20" ry="3.20" fill="#545454"/>
<ellipse cx="311" cy="360" rx="4.50" ry="3.80" fill="#545454"/>
<ellipse cx="351" cy="406" rx="4.70" ry="3.20" fill="#545454"/>
<ellipse cx="370" cy="387" rx="1.70" ry="1.30" fill="#8a8a8a"/>
<ellipse cx="513" cy="391" rx="6.10" ry="3.60" fill="#8a8a8a"/>
<ellipse cx="624" cy="260.5" rx="4.60" ry="2.30" fill="#545454"/>
<ellipse cx="441" cy="134.5" rx="5.45" ry="4.35" transform="rotate(-20 441 134.5)" fill="#747474"/>
<ellipse cx="437.3" cy="141.2" rx="1.30" ry="1.90" transform="rotate(30 437.3 141.2)" fill="#8a8a8a"/>
<ellipse cx="489" cy="146" rx="5.20" ry="2.70" fill="#545454"/>






<ellipse cx="173" cy="545" rx="7.55" ry="3.55" fill="#747474"/>
<ellipse cx="234.3" cy="588.2" rx="10.15" ry="3.55" transform="rotate(-15 234.3 588.2)" fill="#747474"/>
<ellipse cx="280.8" cy="594.5" rx="5.30" ry="2.90" fill="#3a3a3a"/>
<ellipse cx="224.7" cy="618.2" rx="6.70" ry="3.90" fill="#545454"/>
<ellipse cx="257.7" cy="626.8" rx="7.20" ry="4.20" fill="#545454"/>
<ellipse cx="322" cy="602.5" rx="7.10" ry="4.40" fill="#545454"/>
<ellipse cx="346" cy="598" rx="7.50" ry="3.90" fill="#545454"/>
<ellipse cx="215" cy="652.7" rx="6.50" ry="3.80" fill="#3a3a3a"/>
<ellipse cx="308" cy="657" rx="6.70" ry="4.00" fill="#545454"/>
<ellipse cx="270.8" cy="665.2" rx="7.30" ry="4.20" fill="#545454"/>
<ellipse cx="191.2" cy="681" rx="6.80" ry="3.70" fill="#8a8a8a"/>
<ellipse cx="238.5" cy="682.8" rx="8.80" ry="6.20" transform="rotate(-58 238.5 682.8)" fill="#545454"/>
<ellipse cx="339.5" cy="680" rx="6.90" ry="3.80" fill="#3a3a3a"/>
<ellipse cx="353" cy="679" rx="3.80" ry="3.70" fill="#8a8a8a"/>
<ellipse cx="319.5" cy="699.5" rx="7.10" ry="4.00" fill="#545454"/>
<ellipse cx="382.5" cy="544.5" rx="6.50" ry="3.90" fill="#545454"/>
<ellipse cx="373" cy="554" rx="6.50" ry="4.80" fill="#545454"/>
<ellipse cx="462" cy="588" rx="2.50" ry="3.40" fill="#c6c6c6"/>


<ellipse cx="442.5" cy="614.5" rx="7.10" ry="4.00" fill="#545454"/>
<ellipse cx="392" cy="627" rx="7.10" ry="4.80" transform="rotate(-20 392 627)" fill="#545454"/>
<ellipse cx="360.5" cy="640" rx="6.60" ry="4.40" fill="#545454"/>
<ellipse cx="419" cy="640" rx="9.60" ry="4.40" transform="rotate(-5 419 640)" fill="#545454"/>
<ellipse cx="474" cy="640" rx="6.40" ry="4.20" fill="#3a3a3a"/>
<ellipse cx="381" cy="658" rx="1.90" ry="1.90" fill="#c6c6c6"/>
<ellipse cx="362.5" cy="665" rx="1.90" ry="1.90" fill="#c6c6c6"/>
<ellipse cx="361" cy="671" rx="2.40" ry="1.90" fill="#c6c6c6"/>
<ellipse cx="435" cy="667" rx="6.50" ry="3.90" fill="#545454"/>
<ellipse cx="443" cy="673" rx="6.50" ry="4.40" fill="#545454"/>
<ellipse cx="458" cy="682.5" rx="7.10" ry="3.90" fill="#545454"/>
<ellipse cx="402" cy="687.5" rx="7.90" ry="5.20" fill="#3a3a3a"/>
<ellipse cx="491.5" cy="657.5" rx="2.10" ry="2.10" fill="#c6c6c6"/>
<ellipse cx="569.5" cy="588" rx="1.80" ry="2.70" fill="#8a8a8a"/>
<ellipse cx="563" cy="598" rx="2.30" ry="3.30" fill="#c6c6c6"/>
<ellipse cx="535" cy="614.5" rx="4.00" ry="6.50" transform="rotate(20 535 614.5)" fill="#8a8a8a"/>
<ellipse cx="534" cy="629" rx="3.50" ry="3.40" fill="#545454"/>
<ellipse cx="516" cy="621" rx="2.70" ry="3.20" fill="#8a8a8a"/>
<ellipse cx="192" cy="718.5" rx="6.70" ry="3.90" fill="#545454"/>
<ellipse cx="199" cy="732.5" rx="6.60" ry="3.90" fill="#545454"/>
<ellipse cx="172.5" cy="792" rx="7.50" ry="3.90" fill="#545454"/>
<ellipse cx="145" cy="797" rx="7.50" ry="3.90" fill="#545454"/>
<ellipse cx="197" cy="802" rx="6.90" ry="4.30" fill="#545454"/>
<ellipse cx="185.5" cy="829.2" rx="7.15" ry="2.85" fill="#747474"/>
<ellipse cx="196.8" cy="844" rx="5.75" ry="3.75" fill="#747474"/>
<ellipse cx="265.8" cy="706.2" rx="7.70" ry="4.60" transform="rotate(-5 265.8 706.2)" fill="#545454"/>
<ellipse cx="304" cy="729" rx="7.10" ry="4.40" fill="#545454"/>
<ellipse cx="323.5" cy="735.3" rx="8.50" ry="4.90" transform="rotate(-10 323.5 735.3)" fill="#545454"/>
<ellipse cx="307.3" cy="743" rx="7.50" ry="4.50" fill="#545454"/>
<ellipse cx="315" cy="739.5" rx="4.30" ry="3.20" fill="#545454"/>
<ellipse cx="321.5" cy="756.5" rx="9.60" ry="4.90" transform="rotate(-25 321.5 756.5)" fill="#545454"/>
<ellipse cx="335.5" cy="762.5" rx="7.60" ry="4.90" fill="#545454"/>
<ellipse cx="255" cy="748.5" rx="6.50" ry="5.00" fill="#545454"/>
<ellipse cx="267" cy="748.7" rx="6.50" ry="5.00" fill="#545454"/>
<ellipse cx="273.8" cy="768.8" rx="6.80" ry="4.70" fill="#545454"/>
<ellipse cx="282.5" cy="764" rx="6.80" ry="4.40" fill="#545454"/>
<ellipse cx="290" cy="768" rx="5.30" ry="4.20" fill="#545454"/>
<ellipse cx="302.5" cy="772.5" rx="8.10" ry="4.90" fill="#545454"/>
<ellipse cx="280" cy="780" rx="6.80" ry="6.20" fill="#545454"/>
<ellipse cx="289" cy="781" rx="7.30" ry="5.20" fill="#545454"/>
<ellipse cx="282.5" cy="790.5" rx="6.10" ry="3.60" fill="#545454"/>
<ellipse cx="294" cy="788.5" rx="6.30" ry="3.70" fill="#545454"/>
<ellipse cx="214" cy="786" rx="7.10" ry="4.40" fill="#545454"/>
<ellipse cx="245.6" cy="807.2" rx="6.80" ry="4.80" fill="#3a3a3a"/>
<ellipse cx="249" cy="844" rx="6.60" ry="3.60" fill="#545454"/>
<ellipse cx="246" cy="854.8" rx="7.00" ry="4.30" transform="rotate(-10 246 854.8)" fill="#545454"/>
<ellipse cx="231" cy="865.8" rx="6.40" ry="4.80" fill="#3a3a3a"/>
<ellipse cx="302.5" cy="859" rx="11.80" ry="4.00" transform="rotate(-8 302.5 859)" fill="#545454"/>
<ellipse cx="261.8" cy="870.5" rx="7.00" ry="4.30" fill="#545454"/>
<ellipse cx="276.8" cy="868.8" rx="6.90" ry="4.30" fill="#545454"/>
<ellipse cx="286.5" cy="864.6" rx="3.00" ry="1.30" transform="rotate(-30 286.5 864.6)" fill="#8a8a8a"/>
<ellipse cx="362.5" cy="711" rx="6.80" ry="4.20" fill="#3a3a3a"/>
<ellipse cx="376" cy="714" rx="6.30" ry="4.20" fill="#3a3a3a"/>
<ellipse cx="369" cy="712.5" rx="3.10" ry="3.20" fill="#3a3a3a"/>

<ellipse cx="462.5" cy="714.5" rx="6.90" ry="4.20" fill="#3a3a3a"/>
<ellipse cx="354" cy="752" rx="6.30" ry="4.20" fill="#3a3a3a"/>
<ellipse cx="395" cy="752.5" rx="6.50" ry="5.40" fill="#545454"/>
<ellipse cx="379.8" cy="775" rx="6.50" ry="4.60" fill="#3a3a3a"/>
<ellipse cx="367.5" cy="778.8" rx="4.40" ry="2.50" fill="#8a8a8a"/>
<ellipse cx="340.8" cy="782.5" rx="7.00" ry="4.40" fill="#545454"/>
<ellipse cx="414" cy="789" rx="6.40" ry="4.20" fill="#3a3a3a"/>
<ellipse cx="294.3" cy="818.3" rx="6.10" ry="5.80" fill="#545454"/>
<ellipse cx="293" cy="827.5" rx="4.40" ry="2.40" fill="#c6c6c6"/>
<ellipse cx="364.8" cy="819" rx="4.60" ry="3.20" fill="#3a3a3a"/>
<ellipse cx="371.5" cy="826" rx="6.30" ry="5.00" transform="rotate(20 371.5 826)" fill="#3a3a3a"/>
<ellipse cx="464" cy="802.5" rx="5.80" ry="4.20" fill="#3a3a3a"/>
<ellipse cx="482.5" cy="802.5" rx="5.30" ry="4.20" fill="#3a3a3a"/>
<ellipse cx="449" cy="808" rx="2.00" ry="0.80" fill="#8a8a8a"/>
<ellipse cx="382.8" cy="861.2" rx="3.90" ry="3.30" fill="#545454"/>
<ellipse cx="371.3" cy="877.5" rx="6.50" ry="4.40" fill="#545454"/>
<ellipse cx="365" cy="885" rx="1.40" ry="1.90" transform="rotate(40 365 885)" fill="#c6c6c6"/>
<ellipse cx="477" cy="866.6" rx="6.90" ry="3.80" fill="#3a3a3a"/>
<ellipse cx="617.5" cy="736" rx="6.40" ry="3.80" fill="#3a3a3a"/>

<ellipse cx="302.5" cy="826.3" rx="6.55" ry="4.85" transform="rotate(-20 302.5 826.3)" fill="#747474"/>
<ellipse cx="320.5" cy="812.8" rx="5.55" ry="4.85" transform="rotate(-40 320.5 812.8)" fill="#747474"/>
<ellipse cx="332" cy="807.3" rx="5.80" ry="4.20" transform="rotate(-30 332 807.3)" fill="#545454"/>
<ellipse cx="355" cy="791.8" rx="6.30" ry="4.60" fill="#545454"/>
<ellipse cx="366.3" cy="801" rx="4.60" ry="6.20" fill="#545454"/>
<ellipse cx="344" cy="798.5" rx="5.30" ry="4.20" transform="rotate(-40 344 798.5)" fill="#545454"/>
<ellipse cx="316" cy="767" rx="1.50" ry="0.70" fill="#c6c6c6"/>
<ellipse cx="322.5" cy="790" rx="1.30" ry="0.90" fill="#c6c6c6"/>
<ellipse cx="326.5" cy="791.5" rx="0.90" ry="0.70" fill="#c6c6c6"/>
<ellipse cx="128" cy="68" rx="4.22" ry="2.15" fill="url(#gm)"/>
<ellipse cx="317.5" cy="64.5" rx="4.62" ry="2.85" transform="rotate(-30 317.5 64.5)" fill="url(#gh)"/>
<ellipse cx="309.5" cy="69.5" rx="3.70" ry="1.11" transform="rotate(-30 309.5 69.5)" fill="url(#gm)"/>
<ellipse cx="304.5" cy="72.5" rx="1.85" ry="0.74" transform="rotate(-30 304.5 72.5)" fill="url(#gm)"/>
<ellipse cx="367.5" cy="60" rx="3.40" ry="2.52" fill="url(#gd)"/>
<ellipse cx="357.5" cy="75" rx="3.48" ry="2.74" fill="url(#gm)"/>
<ellipse cx="195" cy="114.5" rx="4.00" ry="2.00" fill="url(#gl)"/>
<ellipse cx="197.5" cy="142" rx="3.70" ry="2.22" fill="url(#gm)"/>
<ellipse cx="111" cy="139" rx="3.26" ry="1.55" fill="url(#gl)"/>
<ellipse cx="289.5" cy="115.5" rx="4.00" ry="2.52" fill="url(#gd)"/>
<ellipse cx="272.5" cy="127.5" rx="4.44" ry="2.22" fill="url(#gd)"/>
<ellipse cx="332" cy="120" rx="4.22" ry="2.74" transform="rotate(-15 332 120)" fill="url(#gm)"/>
<ellipse cx="367" cy="133" rx="3.40" ry="1.92" fill="url(#gd)"/>
<ellipse cx="371.5" cy="152.5" rx="1.55" ry="1.41" fill="url(#gl)"/>
<ellipse cx="359.5" cy="161" rx="3.63" ry="2.29" fill="url(#gm)"/>
<ellipse cx="341" cy="184" rx="4.00" ry="2.66" transform="rotate(-20 341 184)" fill="url(#gd)"/>
<ellipse cx="224.5" cy="156" rx="3.40" ry="1.92" fill="url(#gd)"/>
<ellipse cx="284.5" cy="179.5" rx="3.26" ry="2.37" fill="url(#gd)"/>
<ellipse cx="320.5" cy="178" rx="7.25" ry="3.11" transform="rotate(-35 320.5 178)" fill="url(#gd)"/>
<ellipse cx="242" cy="187.5" rx="3.48" ry="2.29" fill="url(#gm)"/>
<ellipse cx="177.5" cy="178" rx="3.55" ry="2.00" fill="url(#gd)"/>
<ellipse cx="208.8" cy="204" rx="3.70" ry="2.66" transform="rotate(-30 208.8 204)" fill="url(#gd)"/>
<ellipse cx="203.3" cy="210.8" rx="3.70" ry="2.66" transform="rotate(-30 203.3 210.8)" fill="url(#gd)"/>
<ellipse cx="238" cy="229.5" rx="5.33" ry="2.66" transform="rotate(-15 238 229.5)" fill="url(#gd)"/>
<ellipse cx="330" cy="192.5" rx="3.52" ry="2.70" transform="rotate(-35 330 192.5)" fill="url(#gh)"/>
<ellipse cx="324" cy="198" rx="3.52" ry="3.15" transform="rotate(-35 324 198)" fill="url(#gh)"/>
<ellipse cx="318.5" cy="203.5" rx="6.33" ry="4.03" transform="rotate(10 318.5 203.5)" fill="url(#gh)"/>
<ellipse cx="327.3" cy="207.5" rx="3.74" ry="1.96" transform="rotate(20 327.3 207.5)" fill="url(#gh)"/>
<ellipse cx="312.5" cy="213.5" rx="3.52" ry="3.52" fill="url(#gh)"/>
<ellipse cx="308.5" cy="219.5" rx="3.52" ry="2.77" fill="url(#gh)"/>
<ellipse cx="312.8" cy="226.2" rx="7.88" ry="2.77" transform="rotate(15 312.8 226.2)" fill="url(#gh)"/>
<ellipse cx="313.5" cy="208.5" rx="3.15" ry="3.15" fill="url(#gh)"/>
<ellipse cx="305" cy="223" rx="2.77" ry="2.40" fill="url(#gh)"/>
<ellipse cx="300" cy="252.3" rx="3.55" ry="3.11" fill="url(#gd)"/>
<ellipse cx="311.5" cy="252.3" rx="3.55" ry="3.11" fill="url(#gd)"/>
<ellipse cx="305.8" cy="257" rx="4.81" ry="2.59" fill="url(#gd)"/>
<ellipse cx="271" cy="260.5" rx="4.07" ry="2.52" transform="rotate(10 271 260.5)" fill="url(#gd)"/>
<ellipse cx="282" cy="263" rx="5.18" ry="3.33" transform="rotate(10 282 263)" fill="url(#gd)"/>
<ellipse cx="279" cy="271" rx="5.18" ry="4.07" fill="url(#gd)"/>
<ellipse cx="290.5" cy="274" rx="5.55" ry="3.11" fill="url(#gd)"/>
<ellipse cx="293" cy="266" rx="3.70" ry="2.59" fill="url(#gd)"/>
<ellipse cx="302" cy="268.5" rx="2.44" ry="1.78" fill="url(#gD)"/>
<ellipse cx="232.5" cy="261" rx="3.40" ry="2.66" fill="url(#gd)"/>
<ellipse cx="202.5" cy="285" rx="3.85" ry="1.92" fill="url(#gd)"/>
<ellipse cx="183.5" cy="311" rx="3.85" ry="2.37" fill="url(#gd)"/>
<ellipse cx="99" cy="322.5" rx="3.85" ry="2.00" fill="url(#gd)"/>
<ellipse cx="137.5" cy="330.5" rx="4.22" ry="2.74" fill="url(#gm)"/>
<ellipse cx="161" cy="330" rx="3.48" ry="2.37" fill="url(#gd)"/>
<ellipse cx="161" cy="368" rx="2.66" ry="2.44" fill="url(#gg)"/>
<ellipse cx="204.5" cy="329.5" rx="3.92" ry="2.29" fill="url(#gm)"/>
<ellipse cx="221.5" cy="328" rx="3.48" ry="2.52" fill="url(#gd)"/>
<ellipse cx="213" cy="329" rx="1.85" ry="1.26" fill="url(#gm)"/>
<ellipse cx="157.5" cy="242.5" rx="3.26" ry="1.92" fill="url(#gd)"/>
<ellipse cx="176" cy="245" rx="3.85" ry="2.37" fill="url(#gd)"/>
<ellipse cx="154" cy="216" rx="1.85" ry="1.41" fill="url(#gl)"/>
<ellipse cx="392" cy="211" rx="6.84" ry="2.85" transform="rotate(15 392 211)" fill="url(#gh)"/>
<ellipse cx="420.5" cy="191" rx="3.40" ry="1.92" fill="url(#gd)"/>
<ellipse cx="441" cy="202.5" rx="3.40" ry="2.37" fill="url(#gd)"/>
<ellipse cx="464" cy="202.5" rx="3.88" ry="2.11" fill="url(#gh)"/>
<ellipse cx="407.5" cy="163" rx="4.14" ry="3.11" fill="url(#gd)"/>
<ellipse cx="439" cy="238" rx="3.85" ry="2.37" fill="url(#gd)"/>
<ellipse cx="464" cy="249.5" rx="4.33" ry="2.55" transform="rotate(-10 464 249.5)" fill="url(#gh)"/>
<ellipse cx="341" cy="235" rx="4.29" ry="3.40" fill="url(#gd)"/>
<ellipse cx="351.5" cy="241.5" rx="4.88" ry="3.70" fill="url(#gd)"/>
<ellipse cx="346" cy="238.5" rx="2.59" ry="2.22" fill="url(#gd)"/>
<ellipse cx="372.5" cy="255" rx="3.33" ry="2.66" fill="url(#gd)"/>
<ellipse cx="391" cy="254.5" rx="3.40" ry="2.74" fill="url(#gd)"/>
<ellipse cx="381" cy="276" rx="3.40" ry="2.74" fill="url(#gd)"/>
<ellipse cx="417" cy="276" rx="4.44" ry="2.96" fill="url(#gD)"/>
<ellipse cx="345.8" cy="279.3" rx="3.33" ry="2.96" fill="url(#gd)"/>
<ellipse cx="346.2" cy="288.3" rx="3.33" ry="2.96" fill="url(#gd)"/>
<ellipse cx="335" cy="272" rx="3.40" ry="3.70" fill="url(#gd)"/>
<ellipse cx="329.5" cy="277" rx="3.55" ry="3.55" fill="url(#gd)"/>
<ellipse cx="324" cy="281.5" rx="3.85" ry="3.55" fill="url(#gd)"/>
<ellipse cx="311.5" cy="287" rx="5.03" ry="4.44" fill="url(#gD)"/>
<ellipse cx="325.5" cy="291" rx="4.29" ry="2.81" fill="url(#gd)"/>
<ellipse cx="319" cy="286.5" rx="3.70" ry="3.33" fill="url(#gd)"/>
<ellipse cx="367.5" cy="299.5" rx="5.18" ry="3.18" transform="rotate(12 367.5 299.5)" fill="url(#gd)"/>
<ellipse cx="346.5" cy="308" rx="3.70" ry="3.18" fill="url(#gd)"/>
<ellipse cx="358.5" cy="310.8" rx="3.70" ry="2.96" fill="url(#gd)"/>
<ellipse cx="352.5" cy="309.5" rx="3.70" ry="2.66" transform="rotate(10 352.5 309.5)" fill="url(#gd)"/>
<ellipse cx="371.2" cy="323" rx="3.63" ry="1.85" fill="url(#gd)"/>
<ellipse cx="402.5" cy="318" rx="3.11" ry="2.74" fill="url(#gd)"/>
<ellipse cx="411.5" cy="332.5" rx="3.77" ry="2.74" transform="rotate(-10 411.5 332.5)" fill="url(#gm)"/>
<ellipse cx="452.5" cy="329.5" rx="3.55" ry="2.22" fill="url(#gD)"/>
<ellipse cx="459.5" cy="343" rx="3.03" ry="2.74" fill="url(#gm)"/>
<ellipse cx="363.8" cy="343" rx="5.18" ry="2.81" transform="rotate(-15 363.8 343)" fill="url(#gd)"/>
<ellipse cx="345" cy="330" rx="4.00" ry="4.44" fill="url(#gm)"/>
<ellipse cx="333" cy="337.5" rx="3.63" ry="4.44" transform="rotate(-25 333 337.5)" fill="url(#gd)"/>
<ellipse cx="339" cy="333.5" rx="2.22" ry="2.22" fill="url(#gd)"/>
<ellipse cx="323" cy="340.5" rx="2.52" ry="0.81" transform="rotate(-20 323 340.5)" fill="url(#gl)"/>
<ellipse cx="306" cy="333.8" rx="4.29" ry="2.74" fill="url(#gd)"/>
<ellipse cx="316.9" cy="330" rx="2.66" ry="1.63" fill="url(#gd)"/>
<ellipse cx="311.5" cy="331.8" rx="2.22" ry="1.48" fill="url(#gd)"/>
<ellipse cx="303.8" cy="322.8" rx="3.26" ry="1.41" transform="rotate(20 303.8 322.8)" fill="url(#gl)"/>
<ellipse cx="274.5" cy="357.3" rx="3.55" ry="3.33" fill="url(#gm)"/>
<ellipse cx="283.5" cy="352" rx="1.85" ry="1.18" transform="rotate(-20 283.5 352)" fill="url(#gl)"/>
<ellipse cx="273.8" cy="366.8" rx="3.70" ry="2.22" fill="url(#gd)"/>
<ellipse cx="215.6" cy="370" rx="6.40" ry="3.00" transform="rotate(-40 215.6 370)" fill="url(#gh)"/>
<ellipse cx="213" cy="383" rx="3.33" ry="2.22" fill="url(#gd)"/>
<ellipse cx="198" cy="392" rx="3.85" ry="2.37" fill="url(#gd)"/>
<ellipse cx="244" cy="380.5" rx="7.21" ry="3.00" transform="rotate(-42 244 380.5)" fill="url(#gh)"/>
<ellipse cx="252.2" cy="394.3" rx="3.63" ry="2.44" transform="rotate(-10 252.2 394.3)" fill="url(#gd)"/>
<ellipse cx="274.4" cy="387" rx="4.07" ry="2.29" fill="url(#gd)"/>

<ellipse cx="303" cy="362" rx="6.29" ry="3.55" transform="rotate(10 303 362)" fill="url(#gd)"/>
<ellipse cx="317.5" cy="356.5" rx="3.85" ry="3.11" fill="url(#gd)"/>
<ellipse cx="328" cy="357" rx="3.85" ry="2.37" fill="url(#gd)"/>
<ellipse cx="311" cy="360" rx="3.33" ry="2.81" fill="url(#gd)"/>
<ellipse cx="351" cy="406" rx="3.48" ry="2.37" fill="url(#gd)"/>
<ellipse cx="370" cy="387" rx="1.26" ry="0.96" fill="url(#gm)"/>
<ellipse cx="513" cy="391" rx="4.51" ry="2.66" fill="url(#gm)"/>
<ellipse cx="624" cy="260.5" rx="3.40" ry="1.70" fill="url(#gd)"/>
<ellipse cx="441" cy="134.5" rx="4.03" ry="3.22" transform="rotate(-20 441 134.5)" fill="url(#gh)"/>
<ellipse cx="437.3" cy="141.2" rx="0.96" ry="1.41" transform="rotate(30 437.3 141.2)" fill="url(#gm)"/>
<ellipse cx="489" cy="146" rx="3.85" ry="2.00" fill="url(#gd)"/>






<ellipse cx="173" cy="545" rx="5.59" ry="2.63" fill="url(#gh)"/>
<ellipse cx="234.3" cy="588.2" rx="7.51" ry="2.63" transform="rotate(-15 234.3 588.2)" fill="url(#gh)"/>
<ellipse cx="280.8" cy="594.5" rx="3.92" ry="2.15" fill="url(#gD)"/>
<ellipse cx="224.7" cy="618.2" rx="4.96" ry="2.89" fill="url(#gd)"/>
<ellipse cx="257.7" cy="626.8" rx="5.33" ry="3.11" fill="url(#gd)"/>
<ellipse cx="322" cy="602.5" rx="5.25" ry="3.26" fill="url(#gd)"/>
<ellipse cx="346" cy="598" rx="5.55" ry="2.89" fill="url(#gd)"/>
<ellipse cx="215" cy="652.7" rx="4.81" ry="2.81" fill="url(#gD)"/>
<ellipse cx="308" cy="657" rx="4.96" ry="2.96" fill="url(#gd)"/>
<ellipse cx="270.8" cy="665.2" rx="5.40" ry="3.11" fill="url(#gd)"/>
<ellipse cx="191.2" cy="681" rx="5.03" ry="2.74" fill="url(#gm)"/>
<ellipse cx="238.5" cy="682.8" rx="6.51" ry="4.59" transform="rotate(-58 238.5 682.8)" fill="url(#gd)"/>
<ellipse cx="339.5" cy="680" rx="5.11" ry="2.81" fill="url(#gD)"/>
<ellipse cx="353" cy="679" rx="2.81" ry="2.74" fill="url(#gm)"/>
<ellipse cx="319.5" cy="699.5" rx="5.25" ry="2.96" fill="url(#gd)"/>
<ellipse cx="382.5" cy="544.5" rx="4.81" ry="2.89" fill="url(#gd)"/>
<ellipse cx="373" cy="554" rx="4.81" ry="3.55" fill="url(#gd)"/>
<ellipse cx="462" cy="588" rx="1.85" ry="2.52" fill="url(#gl)"/>


<ellipse cx="442.5" cy="614.5" rx="5.25" ry="2.96" fill="url(#gd)"/>
<ellipse cx="392" cy="627" rx="5.25" ry="3.55" transform="rotate(-20 392 627)" fill="url(#gd)"/>
<ellipse cx="360.5" cy="640" rx="4.88" ry="3.26" fill="url(#gd)"/>
<ellipse cx="419" cy="640" rx="7.10" ry="3.26" transform="rotate(-5 419 640)" fill="url(#gd)"/>
<ellipse cx="474" cy="640" rx="4.74" ry="3.11" fill="url(#gD)"/>
<ellipse cx="381" cy="658" rx="1.41" ry="1.41" fill="url(#gl)"/>
<ellipse cx="362.5" cy="665" rx="1.41" ry="1.41" fill="url(#gl)"/>
<ellipse cx="361" cy="671" rx="1.78" ry="1.41" fill="url(#gl)"/>
<ellipse cx="435" cy="667" rx="4.81" ry="2.89" fill="url(#gd)"/>
<ellipse cx="443" cy="673" rx="4.81" ry="3.26" fill="url(#gd)"/>
<ellipse cx="458" cy="682.5" rx="5.25" ry="2.89" fill="url(#gd)"/>
<ellipse cx="402" cy="687.5" rx="5.85" ry="3.85" fill="url(#gD)"/>
<ellipse cx="491.5" cy="657.5" rx="1.55" ry="1.55" fill="url(#gl)"/>
<ellipse cx="569.5" cy="588" rx="1.33" ry="2.00" fill="url(#gm)"/>
<ellipse cx="563" cy="598" rx="1.70" ry="2.44" fill="url(#gl)"/>
<ellipse cx="535" cy="614.5" rx="2.96" ry="4.81" transform="rotate(20 535 614.5)" fill="url(#gm)"/>
<ellipse cx="534" cy="629" rx="2.59" ry="2.52" fill="url(#gd)"/>
<ellipse cx="516" cy="621" rx="2.00" ry="2.37" fill="url(#gm)"/>
<ellipse cx="192" cy="718.5" rx="4.96" ry="2.89" fill="url(#gd)"/>
<ellipse cx="199" cy="732.5" rx="4.88" ry="2.89" fill="url(#gd)"/>
<ellipse cx="172.5" cy="792" rx="5.55" ry="2.89" fill="url(#gd)"/>
<ellipse cx="145" cy="797" rx="5.55" ry="2.89" fill="url(#gd)"/>
<ellipse cx="197" cy="802" rx="5.11" ry="3.18" fill="url(#gd)"/>
<ellipse cx="185.5" cy="829.2" rx="5.29" ry="2.11" fill="url(#gh)"/>
<ellipse cx="196.8" cy="844" rx="4.25" ry="2.77" fill="url(#gh)"/>
<ellipse cx="265.8" cy="706.2" rx="5.70" ry="3.40" transform="rotate(-5 265.8 706.2)" fill="url(#gd)"/>
<ellipse cx="304" cy="729" rx="5.25" ry="3.26" fill="url(#gd)"/>
<ellipse cx="323.5" cy="735.3" rx="6.29" ry="3.63" transform="rotate(-10 323.5 735.3)" fill="url(#gd)"/>
<ellipse cx="307.3" cy="743" rx="5.55" ry="3.33" fill="url(#gd)"/>
<ellipse cx="315" cy="739.5" rx="3.18" ry="2.37" fill="url(#gd)"/>
<ellipse cx="321.5" cy="756.5" rx="7.10" ry="3.63" transform="rotate(-25 321.5 756.5)" fill="url(#gd)"/>
<ellipse cx="335.5" cy="762.5" rx="5.62" ry="3.63" fill="url(#gd)"/>
<ellipse cx="255" cy="748.5" rx="4.81" ry="3.70" fill="url(#gd)"/>
<ellipse cx="267" cy="748.7" rx="4.81" ry="3.70" fill="url(#gd)"/>
<ellipse cx="273.8" cy="768.8" rx="5.03" ry="3.48" fill="url(#gd)"/>
<ellipse cx="282.5" cy="764" rx="5.03" ry="3.26" fill="url(#gd)"/>
<ellipse cx="290" cy="768" rx="3.92" ry="3.11" fill="url(#gd)"/>
<ellipse cx="302.5" cy="772.5" rx="5.99" ry="3.63" fill="url(#gd)"/>
<ellipse cx="280" cy="780" rx="5.03" ry="4.59" fill="url(#gd)"/>
<ellipse cx="289" cy="781" rx="5.40" ry="3.85" fill="url(#gd)"/>
<ellipse cx="282.5" cy="790.5" rx="4.51" ry="2.66" fill="url(#gd)"/>
<ellipse cx="294" cy="788.5" rx="4.66" ry="2.74" fill="url(#gd)"/>
<ellipse cx="214" cy="786" rx="5.25" ry="3.26" fill="url(#gd)"/>
<ellipse cx="245.6" cy="807.2" rx="5.03" ry="3.55" fill="url(#gD)"/>
<ellipse cx="249" cy="844" rx="4.88" ry="2.66" fill="url(#gd)"/>
<ellipse cx="246" cy="854.8" rx="5.18" ry="3.18" transform="rotate(-10 246 854.8)" fill="url(#gd)"/>
<ellipse cx="231" cy="865.8" rx="4.74" ry="3.55" fill="url(#gD)"/>
<ellipse cx="302.5" cy="859" rx="8.73" ry="2.96" transform="rotate(-8 302.5 859)" fill="url(#gd)"/>
<ellipse cx="261.8" cy="870.5" rx="5.18" ry="3.18" fill="url(#gd)"/>
<ellipse cx="276.8" cy="868.8" rx="5.11" ry="3.18" fill="url(#gd)"/>
<ellipse cx="286.5" cy="864.6" rx="2.22" ry="0.96" transform="rotate(-30 286.5 864.6)" fill="url(#gm)"/>
<ellipse cx="362.5" cy="711" rx="5.03" ry="3.11" fill="url(#gD)"/>
<ellipse cx="376" cy="714" rx="4.66" ry="3.11" fill="url(#gD)"/>
<ellipse cx="369" cy="712.5" rx="2.29" ry="2.37" fill="url(#gD)"/>

<ellipse cx="462.5" cy="714.5" rx="5.11" ry="3.11" fill="url(#gD)"/>
<ellipse cx="354" cy="752" rx="4.66" ry="3.11" fill="url(#gD)"/>
<ellipse cx="395" cy="752.5" rx="4.81" ry="4.00" fill="url(#gd)"/>
<ellipse cx="379.8" cy="775" rx="4.81" ry="3.40" fill="url(#gD)"/>
<ellipse cx="367.5" cy="778.8" rx="3.26" ry="1.85" fill="url(#gm)"/>
<ellipse cx="340.8" cy="782.5" rx="5.18" ry="3.26" fill="url(#gd)"/>
<ellipse cx="414" cy="789" rx="4.74" ry="3.11" fill="url(#gD)"/>
<ellipse cx="294.3" cy="818.3" rx="4.51" ry="4.29" fill="url(#gd)"/>
<ellipse cx="293" cy="827.5" rx="3.26" ry="1.78" fill="url(#gl)"/>
<ellipse cx="364.8" cy="819" rx="3.40" ry="2.37" fill="url(#gD)"/>
<ellipse cx="371.5" cy="826" rx="4.66" ry="3.70" transform="rotate(20 371.5 826)" fill="url(#gD)"/>
<ellipse cx="464" cy="802.5" rx="4.29" ry="3.11" fill="url(#gD)"/>
<ellipse cx="482.5" cy="802.5" rx="3.92" ry="3.11" fill="url(#gD)"/>
<ellipse cx="449" cy="808" rx="1.48" ry="0.59" fill="url(#gm)"/>
<ellipse cx="382.8" cy="861.2" rx="2.89" ry="2.44" fill="url(#gd)"/>
<ellipse cx="371.3" cy="877.5" rx="4.81" ry="3.26" fill="url(#gd)"/>
<ellipse cx="365" cy="885" rx="1.04" ry="1.41" transform="rotate(40 365 885)" fill="url(#gl)"/>
<ellipse cx="477" cy="866.6" rx="5.11" ry="2.81" fill="url(#gD)"/>
<ellipse cx="617.5" cy="736" rx="4.74" ry="2.81" fill="url(#gD)"/>

<ellipse cx="302.5" cy="826.3" rx="4.85" ry="3.59" transform="rotate(-20 302.5 826.3)" fill="url(#gh)"/>
<ellipse cx="320.5" cy="812.8" rx="4.11" ry="3.59" transform="rotate(-40 320.5 812.8)" fill="url(#gh)"/>
<ellipse cx="332" cy="807.3" rx="4.29" ry="3.11" transform="rotate(-30 332 807.3)" fill="url(#gd)"/>
<ellipse cx="355" cy="791.8" rx="4.66" ry="3.40" fill="url(#gd)"/>
<ellipse cx="366.3" cy="801" rx="3.40" ry="4.59" fill="url(#gd)"/>
<ellipse cx="344" cy="798.5" rx="3.92" ry="3.11" transform="rotate(-40 344 798.5)" fill="url(#gd)"/>
<ellipse cx="316" cy="767" rx="1.11" ry="0.52" fill="url(#gl)"/>
<ellipse cx="322.5" cy="790" rx="0.96" ry="0.67" fill="url(#gl)"/>
<ellipse cx="326.5" cy="791.5" rx="0.67" ry="0.52" fill="url(#gl)"/>
<path d="M246.3 280.8C249 284 251.5 290 250.8 294C248 297.5 240 297.5 237.2 294.2C237 289 242 283 246.3 280.8Z" fill="url(#gg)" stroke="#606060" stroke-width="1.2"/>
<path d="M309 299C312 296.5 318 297 323 296.5C328 296 333 297 334.5 301C336 306 335 312 331 314.5C326 316.5 320 315.5 316 316C311 316.5 308 313 307.5 309C307 305 307 301.5 309 299Z" fill="url(#gL)" stroke="#484848" stroke-width="1.3"/>
<ellipse cx="315.5" cy="303.5" rx="3.2" ry="2.2" fill="#ececec"/>
<ellipse cx="327" cy="309.5" rx="3.4" ry="2.4" fill="#f0f0f0"/>
<ellipse cx="319.5" cy="311.5" rx="2.2" ry="1.6" fill="#e0e0e0"/>
<ellipse cx="329.5" cy="302" rx="2.2" ry="1.6" fill="#e4e4e4"/>
<ellipse cx="322.5" cy="306" rx="2.4" ry="2.6" fill="#707070"/>
<ellipse cx="311.5" cy="309" rx="1.8" ry="2.2" fill="#dcdcdc"/>
<circle cx="500" cy="107" r="0.8" fill="#666"/>
<circle cx="549" cy="107" r="0.9" fill="#666"/>
<circle cx="571" cy="109.5" r="1.1" fill="#666"/>
<circle cx="142.5" cy="356.5" r="0.9" fill="#666"/>
<circle cx="269.5" cy="325.5" r="0.9" fill="#666"/>
</g>
<g filter="url(#bt)">
<path d="M496 60L450 99" stroke="#161616" stroke-width="2.2" fill="none"/>
<path d="M527 60L565.5 105" stroke="#161616" stroke-width="2.2" fill="none"/>
<path d="M424.5 100L410 149.5" stroke="#161616" stroke-width="2" fill="none"/>
<path d="M262.5 307L288.8 273" stroke="#161616" stroke-width="1.4" fill="none"/>
<path d="M297.5 285.8L311 285.8" stroke="#161616" stroke-width="1.1" fill="none"/>
<path d="M347.5 360L341.3 330" stroke="#161616" stroke-width="1.1" fill="none"/>
<path d="M286 254L297 263.5" stroke="#161616" stroke-width="1.1" fill="none"/>
<path d="M509 541L462.5 580" stroke="#161616" stroke-width="2" fill="none"/>
<path d="M534 541L572 586" stroke="#161616" stroke-width="2" fill="none"/>
<path d="M437 574L422.5 620" stroke="#161616" stroke-width="2.2" fill="none"/>
<path d="M507.5 600L543 600" stroke="#161616" stroke-width="1.5" fill="none"/>
<path d="M370.5 735.5L359 750" stroke="#161616" stroke-width="2" fill="none"/>
<path d="M277 235.6L303.8 247M297.5 247.6L303.8 247L299.9 242.1" fill="none" stroke="#222" stroke-width="1.4"/>
<path d="M319 264L303 269.5M307.2 264.8L303 269.5L309.2 270.6" fill="none" stroke="#222" stroke-width="1.1"/>
<path d="M297 298L310 303.8M303.7 304.3L310 303.8L306.2 298.8" fill="none" stroke="#222" stroke-width="1.1"/>
<path d="M335 366L322.5 359M328.8 359.1L322.5 359L325.8 364.3" fill="none" stroke="#222" stroke-width="1.1"/>
<path d="M119 357L139.5 357M134.0 360.0L139.5 357L134.0 354.0" fill="none" stroke="#222" stroke-width="1.3"/>
<path d="M288 783.5L301.5 790.5M295.2 790.6L301.5 790.5L298.0 785.3" fill="none" stroke="#222" stroke-width="1.2"/>
<path d="M258.5 773.8H289" stroke="#111" stroke-width="1.7" fill="none"/>
<path d="M292.5 773.8L285.5 769.2L287.3 773.8L285.5 778.4Z" fill="#111" stroke="#111" stroke-width="0.8" stroke-linejoin="round"/>
<path d="M310.5 802.2L322 807.2M316.5 801.2L323.2 807.8L315 810.2" stroke="#111" stroke-width="1.7" fill="none" stroke-linejoin="round" stroke-linecap="round"/>
<path d="M308 193l8 7M316.5 192.5l-7 8M312.8 190.5v11M307 197.5h9" stroke="#151515" stroke-width="1.2" fill="none"/><ellipse cx="311.2" cy="200.5" rx="1.8" ry="3.2" fill="#151515"/>
</g>
<g font-family="Liberation Serif, serif" font-size="11.8" fill="#111" stroke="#111" stroke-width="0.36" filter="url(#bt)">
<text x="112" y="82">G564</text>
<text x="297.5" y="56">G482</text>
<text x="352" y="52.5">G544</text>
<text x="344" y="89">T557</text>
<text x="180.5" y="109">G511</text>
<text x="182.5" y="135">H526</text>
<text x="96" y="152.5">G516</text>
<text x="164" y="191.5">E530</text>
<text x="275" y="109">G487</text>
<text x="279.5" y="132.5">S538</text>
<text x="318" y="112.5">M581</text>
<text x="352" y="127">T534</text>
<text x="327.5" y="146">Q575 HNε</text>
<text x="341" y="156">D569</text>
<text x="344.5" y="174">N570</text>
<text x="345" y="189">HNδ</text>
<text x="209.5" y="170">G519</text>
<text x="271" y="175">S558</text>
<text x="300" y="172">S490</text>
<text x="228" y="203">S560</text>
<text x="280" y="196">S488</text>
<text x="334" y="210">S493</text>
<text x="274.5" y="221">S573</text>
<text x="319.5" y="222.5">S567</text>
<text x="370" y="204">T539</text>
<text x="390" y="228">N521</text>
<text x="382.5" y="179">L527</text>
<text x="409" y="156">C520</text>
<text x="423" y="184.5">Q575</text>
<text x="426" y="216.5">N570</text>
<text x="452" y="197">F540</text>
<text x="500" y="45.5">Q594</text>
<text x="503" y="60">HNε</text>
<text x="412" y="89.5">Q556</text>
<text x="415.5" y="103">HNε</text>
<text x="386.5" y="120.5">Q529</text>
<text x="389.5" y="134.8">HNε</text>
<text x="429" y="127.5">F543</text>
<text x="472" y="140.5">S548</text>
<text x="552" y="139">Q529 HNε</text>
<text x="546" y="153">Q575HNε</text>
<text x="505.5" y="167.5">Q556 HNε</text>
<text x="140" y="211">T532</text>
<text x="122.5" y="247.5">G583</text>
<text x="163" y="259">F523</text>
<text x="194.5" y="197.5">G587</text>
<text x="186" y="226">N545</text>
<text x="220" y="222.5">T588</text>
<text x="203" y="240.5">Q556</text>
<text x="250" y="235">N582</text>
<text x="304" y="245.5">R590</text>
<text x="262" y="253">A537</text>
<text x="319.5" y="266">I553</text>
<text x="216" y="256">D533</text>
<text x="242" y="278">Q513</text>
<text x="232.5" y="305.5">I524</text>
<text x="240" y="318">E518</text>
<text x="274" y="290">F552</text>
<text x="270.5" y="300">L536</text>
<text x="281" y="315.5">F563</text>
<text x="191" y="298">F565</text>
<text x="169.5" y="325.5">L591</text>
<text x="84.5" y="337.5">Y525</text>
<text x="122.5" y="325">L522</text>
<text x="147" y="346">Q594</text>
<text x="88" y="361">K561</text>
<text x="146" y="381">Q529</text>
<text x="177" y="384">K555</text>
<text x="183" y="343">L595</text>
<text x="219.5" y="343">K550</text>
<text x="258" y="348">K596</text>
<text x="240" y="359">E515</text>
<text x="289" y="353">L492</text>
<text x="197.5" y="362.5">D554</text>
<text x="227.5" y="370">V551</text>
<text x="221" y="397.5">I547</text>
<text x="236" y="409">K597</text>
<text x="264" y="402">V586</text>
<text x="184" y="406">V593</text>
<text x="312" y="377">A491</text>
<text x="335" y="370">I514</text>
<text x="350" y="357.5">L541</text>
<text x="328" y="322">F584</text>
<text x="367.5" y="338">V566</text>
<text x="366" y="315.5">A577</text>
<text x="333" y="302.5">D572</text>
<text x="345.5" y="275">V576</text>
<text x="348" y="230.5">I578</text>
<text x="360.5" y="242">A580</text>
<text x="386" y="267.5">K512</text>
<text x="383" y="288">L559</text>
<text x="446" y="239">K579</text>
<text x="426" y="253.5">A510</text>
<text x="412" y="326">F531</text>
<text x="459" y="335">D535</text>
<text x="498" y="405">V546</text>
<text x="335" y="420">Q585</text>
<text x="611" y="275.5">A574</text>
<text x="157" y="561.7">G564</text>
<text x="213" y="582.7">G511</text>
<text x="262.5" y="587.7">G516</text>
<text x="210" y="612.7">H526</text>
<text x="244" y="643.2">G519</text>
<text x="309" y="619.7">S538</text>
<text x="332.5" y="591.7">M581</text>
<text x="199.5" y="647.7">E530</text>
<text x="296" y="673.2">S558</text>
<text x="257.5" y="681.7">S560</text>
<text x="176" y="676.2">T532</text>
<text x="226" y="673.2">G587</text>
<text x="334" y="674.7">S567</text>
<text x="304.5" y="693.7">S573</text>
<text x="219" y="702.7">N545</text>
<text x="252" y="700.2">T588</text>
<text x="343" y="655.7">D569</text>
<text x="367" y="538.2">G544</text>
<text x="357.5" y="571.7">T557</text>
<text x="424.5" y="562.7">Q556</text>
<text x="428" y="576.7">HNε</text>
<text x="399" y="593.2">Q529</text>
<text x="402" y="606.7">HNε</text>
<text x="427" y="609.7">F543</text>
<text x="365.5" y="621.7">T534</text>
<text x="378" y="646.7">C520</text>
<text x="431" y="641.7">L527</text>
<text x="457" y="633.7">S548</text>
<text x="362.5" y="666.7">N570</text>
<text x="362.5" y="681.2">HNδ</text>
<text x="418" y="661.7">Q575</text>
<text x="450" y="674.7">N570</text>
<text x="466" y="688.2">F540</text>
<text x="390" y="681.2">T539</text>
<text x="405" y="702.7">N521</text>
<text x="348" y="704.7">I578</text>
<text x="383" y="720.7">A580</text>
<text x="512" y="526.7">Q594</text>
<text x="515" y="541.2">HNε</text>
<text x="512" y="583.7">Q513</text>
<text x="515" y="598.2">HNε</text>
<text x="542.5" y="614.7">Q529 HNε</text>
<text x="540.5" y="628.2">Q575HNε</text>
<text x="515" y="642.7">Q556 HNε</text>
<text x="497" y="660.7">N582</text>
<text x="498" y="674.7">HNδ</text>
<text x="546" y="701.2">N545</text>
<text x="547.5" y="715.2">HNδ</text>
<text x="604.5" y="754.2">A574</text>
<text x="174" y="713.2">G583</text>
<text x="186" y="748.7">F523</text>
<text x="157.5" y="787.2">L522</text>
<text x="106" y="803.2">Y525</text>
<text x="181" y="818.7">Q594</text>
<text x="147.5" y="835.2">K561</text>
<text x="159" y="850.2">Q529</text>
<text x="237.5" y="721.7">Q556</text>
<text x="275" y="722.7">R590</text>
<text x="309.5" y="724.2">N582</text>
<text x="329.5" y="748.2">A537</text>
<text x="225.5" y="742.7">F565</text>
<text x="257" y="740.7">D533</text>
<text x="277.5" y="755.7">I553</text>
<text x="242.5" y="768.2">I524</text>
<text x="233" y="778.2">F568</text>
<text x="287" y="766.7">Q513</text>
<text x="301" y="789.7">E518</text>
<text x="310" y="801.7">F552</text>
<text x="287.5" y="811.7">D572</text>
<text x="199.5" y="779.7">L591</text>
<text x="231" y="799.7">L595</text>
<text x="230" y="823.7">K550</text>
<text x="211" y="848.7">D554</text>
<text x="253" y="844.7">V551</text>
<text x="204.5" y="860.7">V593</text>
<text x="302.5" y="853.7">E515</text>
<text x="291" y="875.7">V586</text>
<text x="208" y="884.7">K555</text>
<text x="246" y="889.7">I547</text>
<text x="272" y="886.7">K597</text>
<text x="332.5" y="824.7">I514</text>
<text x="353" y="736.7">V576</text>
<text x="379" y="746.2">K512</text>
<text x="404" y="760.2">L559</text>
<text x="382" y="770.2">A577</text>
<text x="340" y="776.7">L536</text>
<text x="400" y="783.2">F531</text>
<text x="405.5" y="806.7">L559</text>
<text x="370" y="793.7">K589</text>
<text x="373" y="805.7">V566</text>
<text x="374.5" y="819.7">F584</text>
<text x="380" y="831.7">L541</text>
<text x="354.5" y="842.7">A549</text>
<text x="447" y="731.7">K579</text>
<text x="457" y="820.2">D535</text>
<text x="461" y="882.7">V546</text>
<text x="355.5" y="896.7">Q585</text>
<text x="276" y="646" font-weight="bold">S490</text>
</g>
</svg>
</body></html>
